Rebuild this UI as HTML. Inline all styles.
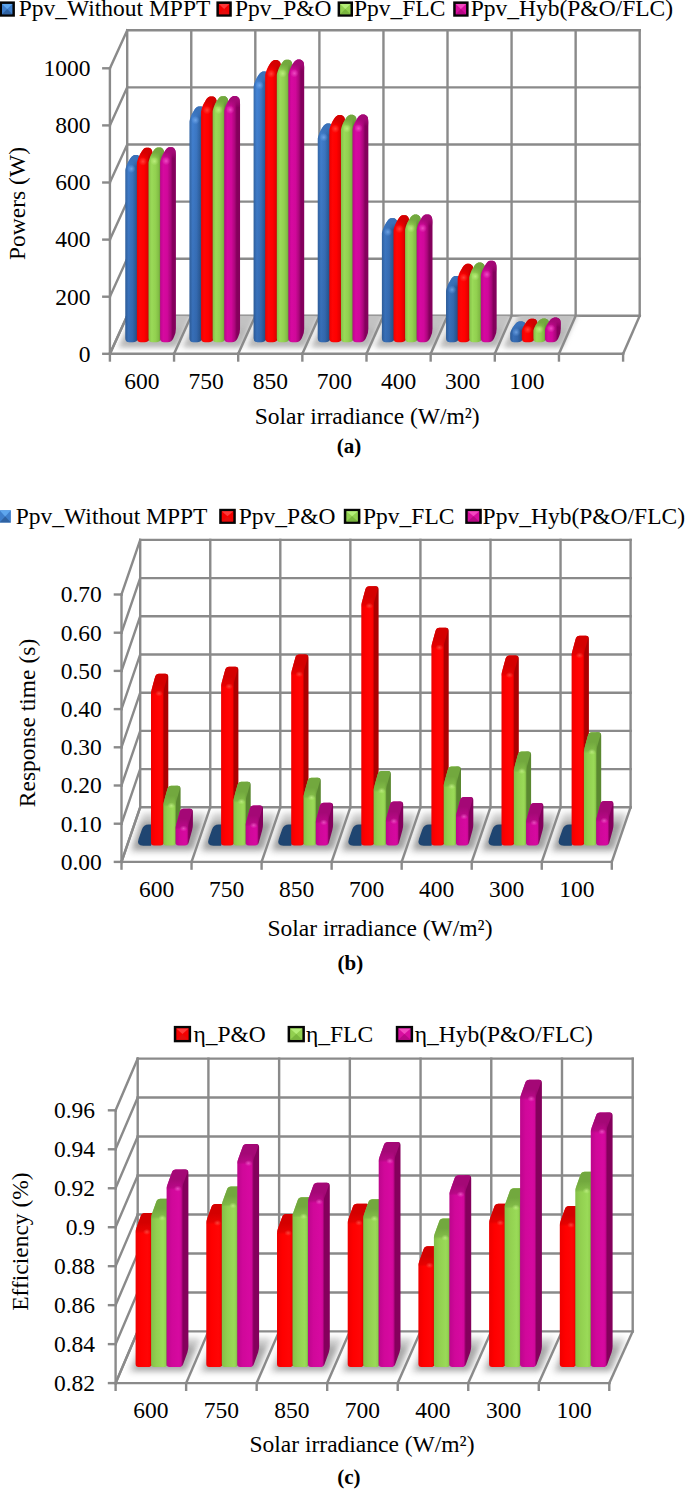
<!DOCTYPE html>
<html><head><meta charset="utf-8"><title>MPPT comparison charts</title>
<style>html,body{margin:0;padding:0;background:#fff;}body{width:685px;height:1489px;overflow:hidden;font-family:"Liberation Serif",serif;}svg{display:block}</style>
</head><body>
<svg width="685" height="1489" viewBox="0 0 685 1489" font-family="'Liberation Serif', serif" fill="#000">
<defs><linearGradient id="vdark" gradientUnits="userSpaceOnUse" x1="0" y1="70" x2="0" y2="342"><stop offset="0" stop-color="#000" stop-opacity="0"/><stop offset="1" stop-color="#001030" stop-opacity="0.2"/></linearGradient><filter id="blur3" x="-30%" y="-60%" width="160%" height="220%"><feGaussianBlur stdDeviation="2.6"/></filter><filter id="blur4" x="-30%" y="-60%" width="160%" height="220%"><feGaussianBlur stdDeviation="3.2"/></filter><linearGradient id="g_bluea" x1="0" x2="1" y1="0" y2="0"><stop offset="0.000" stop-color="#376cae"/><stop offset="0.206" stop-color="#4485d8"/><stop offset="0.455" stop-color="#3e7bca"/><stop offset="0.661" stop-color="#3166a8"/><stop offset="0.793" stop-color="#2a558e"/><stop offset="1.000" stop-color="#2a558e"/></linearGradient><linearGradient id="t_bluea" x1="0" x2="0" y1="0" y2="1"><stop offset="0.000" stop-color="#3a72ba" stop-opacity="1"/><stop offset="0.260" stop-color="#3a72ba" stop-opacity="0.95"/><stop offset="0.460" stop-color="#3a72ba" stop-opacity="0.5"/><stop offset="0.620" stop-color="#3a72ba" stop-opacity="0"/></linearGradient><radialGradient id="h_blue" cx="0.5" cy="0.5" r="0.5"><stop offset="0" stop-color="#8cc0ff" stop-opacity="0.6"/><stop offset="0.45" stop-color="#8cc0ff" stop-opacity="0.3"/><stop offset="1" stop-color="#8cc0ff" stop-opacity="0"/></radialGradient><linearGradient id="g_reda" x1="0" x2="1" y1="0" y2="0"><stop offset="0.000" stop-color="#ee0000"/><stop offset="0.206" stop-color="#ff0505"/><stop offset="0.455" stop-color="#ff0000"/><stop offset="0.661" stop-color="#e40000"/><stop offset="0.793" stop-color="#ac0000"/><stop offset="1.000" stop-color="#ac0000"/></linearGradient><linearGradient id="t_reda" x1="0" x2="0" y1="0" y2="1"><stop offset="0.000" stop-color="#d40000" stop-opacity="1"/><stop offset="0.260" stop-color="#d40000" stop-opacity="0.95"/><stop offset="0.460" stop-color="#d40000" stop-opacity="0.5"/><stop offset="0.620" stop-color="#d40000" stop-opacity="0"/></linearGradient><radialGradient id="h_red" cx="0.5" cy="0.5" r="0.5"><stop offset="0" stop-color="#ff6a5a" stop-opacity="0.6"/><stop offset="0.45" stop-color="#ff6a5a" stop-opacity="0.3"/><stop offset="1" stop-color="#ff6a5a" stop-opacity="0"/></radialGradient><linearGradient id="g_greena" x1="0" x2="1" y1="0" y2="0"><stop offset="0.000" stop-color="#84c048"/><stop offset="0.206" stop-color="#9ada58"/><stop offset="0.455" stop-color="#92d050"/><stop offset="0.661" stop-color="#80ba44"/><stop offset="0.793" stop-color="#5a8830"/><stop offset="1.000" stop-color="#5a8830"/></linearGradient><linearGradient id="t_greena" x1="0" x2="0" y1="0" y2="1"><stop offset="0.000" stop-color="#72a83e" stop-opacity="1"/><stop offset="0.260" stop-color="#72a83e" stop-opacity="0.95"/><stop offset="0.460" stop-color="#72a83e" stop-opacity="0.5"/><stop offset="0.620" stop-color="#72a83e" stop-opacity="0"/></linearGradient><radialGradient id="h_green" cx="0.5" cy="0.5" r="0.5"><stop offset="0" stop-color="#d4ff98" stop-opacity="0.6"/><stop offset="0.45" stop-color="#d4ff98" stop-opacity="0.3"/><stop offset="1" stop-color="#d4ff98" stop-opacity="0"/></radialGradient><linearGradient id="g_maga" x1="0" x2="1" y1="0" y2="0"><stop offset="0.000" stop-color="#bc068c"/><stop offset="0.206" stop-color="#d609a0"/><stop offset="0.455" stop-color="#d0089a"/><stop offset="0.661" stop-color="#ac067c"/><stop offset="0.793" stop-color="#84005c"/><stop offset="1.000" stop-color="#84005c"/></linearGradient><linearGradient id="t_maga" x1="0" x2="0" y1="0" y2="1"><stop offset="0.000" stop-color="#a40876" stop-opacity="1"/><stop offset="0.260" stop-color="#a40876" stop-opacity="0.95"/><stop offset="0.460" stop-color="#a40876" stop-opacity="0.5"/><stop offset="0.620" stop-color="#a40876" stop-opacity="0"/></linearGradient><radialGradient id="h_mag" cx="0.5" cy="0.5" r="0.5"><stop offset="0" stop-color="#ff78dc" stop-opacity="0.6"/><stop offset="0.45" stop-color="#ff78dc" stop-opacity="0.3"/><stop offset="1" stop-color="#ff78dc" stop-opacity="0"/></radialGradient><linearGradient id="g_blueb" x1="0" x2="1" y1="0" y2="0"><stop offset="0.000" stop-color="#376cae"/><stop offset="0.249" stop-color="#3e7bca"/><stop offset="0.555" stop-color="#4485d8"/><stop offset="0.661" stop-color="#3e7bca"/><stop offset="0.754" stop-color="#2a558e"/><stop offset="1.000" stop-color="#2a558e"/></linearGradient><linearGradient id="t_blueb" x1="0" x2="0" y1="0" y2="1"><stop offset="0.000" stop-color="#3a72ba" stop-opacity="1"/><stop offset="0.471" stop-color="#3a72ba" stop-opacity="1"/><stop offset="0.886" stop-color="#3a72ba" stop-opacity="0.55"/><stop offset="1.000" stop-color="#3a72ba" stop-opacity="0"/></linearGradient><linearGradient id="g_redb" x1="0" x2="1" y1="0" y2="0"><stop offset="0.000" stop-color="#ee0000"/><stop offset="0.249" stop-color="#ff0000"/><stop offset="0.555" stop-color="#ff0505"/><stop offset="0.661" stop-color="#ff0000"/><stop offset="0.754" stop-color="#ac0000"/><stop offset="1.000" stop-color="#ac0000"/></linearGradient><linearGradient id="t_redb" x1="0" x2="0" y1="0" y2="1"><stop offset="0.000" stop-color="#d40000" stop-opacity="1"/><stop offset="0.471" stop-color="#d40000" stop-opacity="1"/><stop offset="0.886" stop-color="#d40000" stop-opacity="0.55"/><stop offset="1.000" stop-color="#d40000" stop-opacity="0"/></linearGradient><linearGradient id="g_greenb" x1="0" x2="1" y1="0" y2="0"><stop offset="0.000" stop-color="#84c048"/><stop offset="0.249" stop-color="#92d050"/><stop offset="0.555" stop-color="#9ada58"/><stop offset="0.661" stop-color="#92d050"/><stop offset="0.754" stop-color="#5a8830"/><stop offset="1.000" stop-color="#5a8830"/></linearGradient><linearGradient id="t_greenb" x1="0" x2="0" y1="0" y2="1"><stop offset="0.000" stop-color="#72a83e" stop-opacity="1"/><stop offset="0.471" stop-color="#72a83e" stop-opacity="1"/><stop offset="0.886" stop-color="#72a83e" stop-opacity="0.55"/><stop offset="1.000" stop-color="#72a83e" stop-opacity="0"/></linearGradient><linearGradient id="g_magb" x1="0" x2="1" y1="0" y2="0"><stop offset="0.000" stop-color="#bc068c"/><stop offset="0.249" stop-color="#d0089a"/><stop offset="0.555" stop-color="#d609a0"/><stop offset="0.661" stop-color="#d0089a"/><stop offset="0.754" stop-color="#84005c"/><stop offset="1.000" stop-color="#84005c"/></linearGradient><linearGradient id="t_magb" x1="0" x2="0" y1="0" y2="1"><stop offset="0.000" stop-color="#a40876" stop-opacity="1"/><stop offset="0.471" stop-color="#a40876" stop-opacity="1"/><stop offset="0.886" stop-color="#a40876" stop-opacity="0.55"/><stop offset="1.000" stop-color="#a40876" stop-opacity="0"/></linearGradient><linearGradient id="g_bluec" x1="0" x2="1" y1="0" y2="0"><stop offset="0.000" stop-color="#376cae"/><stop offset="0.249" stop-color="#3e7bca"/><stop offset="0.555" stop-color="#4485d8"/><stop offset="0.661" stop-color="#3e7bca"/><stop offset="0.754" stop-color="#2a558e"/><stop offset="1.000" stop-color="#2a558e"/></linearGradient><linearGradient id="t_bluec" x1="0" x2="0" y1="0" y2="1"><stop offset="0.000" stop-color="#3a72ba" stop-opacity="1"/><stop offset="0.469" stop-color="#3a72ba" stop-opacity="1"/><stop offset="0.882" stop-color="#3a72ba" stop-opacity="0.55"/><stop offset="1.000" stop-color="#3a72ba" stop-opacity="0"/></linearGradient><linearGradient id="g_redc" x1="0" x2="1" y1="0" y2="0"><stop offset="0.000" stop-color="#ee0000"/><stop offset="0.249" stop-color="#ff0000"/><stop offset="0.555" stop-color="#ff0505"/><stop offset="0.661" stop-color="#ff0000"/><stop offset="0.754" stop-color="#ac0000"/><stop offset="1.000" stop-color="#ac0000"/></linearGradient><linearGradient id="t_redc" x1="0" x2="0" y1="0" y2="1"><stop offset="0.000" stop-color="#d40000" stop-opacity="1"/><stop offset="0.469" stop-color="#d40000" stop-opacity="1"/><stop offset="0.882" stop-color="#d40000" stop-opacity="0.55"/><stop offset="1.000" stop-color="#d40000" stop-opacity="0"/></linearGradient><linearGradient id="g_greenc" x1="0" x2="1" y1="0" y2="0"><stop offset="0.000" stop-color="#84c048"/><stop offset="0.249" stop-color="#92d050"/><stop offset="0.555" stop-color="#9ada58"/><stop offset="0.661" stop-color="#92d050"/><stop offset="0.754" stop-color="#5a8830"/><stop offset="1.000" stop-color="#5a8830"/></linearGradient><linearGradient id="t_greenc" x1="0" x2="0" y1="0" y2="1"><stop offset="0.000" stop-color="#72a83e" stop-opacity="1"/><stop offset="0.469" stop-color="#72a83e" stop-opacity="1"/><stop offset="0.882" stop-color="#72a83e" stop-opacity="0.55"/><stop offset="1.000" stop-color="#72a83e" stop-opacity="0"/></linearGradient><linearGradient id="g_magc" x1="0" x2="1" y1="0" y2="0"><stop offset="0.000" stop-color="#bc068c"/><stop offset="0.249" stop-color="#d0089a"/><stop offset="0.555" stop-color="#d609a0"/><stop offset="0.661" stop-color="#d0089a"/><stop offset="0.754" stop-color="#84005c"/><stop offset="1.000" stop-color="#84005c"/></linearGradient><linearGradient id="t_magc" x1="0" x2="0" y1="0" y2="1"><stop offset="0.000" stop-color="#a40876" stop-opacity="1"/><stop offset="0.469" stop-color="#a40876" stop-opacity="1"/><stop offset="0.882" stop-color="#a40876" stop-opacity="0.55"/><stop offset="1.000" stop-color="#a40876" stop-opacity="0"/></linearGradient></defs>
<rect width="685" height="1489" fill="#fff"/>
<line x1="127.20" y1="30.30" x2="127.20" y2="315.80" stroke="#8a8a8a" stroke-width="2.4" stroke-linecap="square"/>
<line x1="191.26" y1="30.30" x2="191.26" y2="315.80" stroke="#8a8a8a" stroke-width="2.4" stroke-linecap="square"/>
<line x1="255.32" y1="30.30" x2="255.32" y2="315.80" stroke="#8a8a8a" stroke-width="2.4" stroke-linecap="square"/>
<line x1="319.39" y1="30.30" x2="319.39" y2="315.80" stroke="#8a8a8a" stroke-width="2.4" stroke-linecap="square"/>
<line x1="383.45" y1="30.30" x2="383.45" y2="315.80" stroke="#8a8a8a" stroke-width="2.4" stroke-linecap="square"/>
<line x1="447.51" y1="30.30" x2="447.51" y2="315.80" stroke="#8a8a8a" stroke-width="2.4" stroke-linecap="square"/>
<line x1="511.57" y1="30.30" x2="511.57" y2="315.80" stroke="#8a8a8a" stroke-width="2.4" stroke-linecap="square"/>
<line x1="575.64" y1="30.30" x2="575.64" y2="315.80" stroke="#8a8a8a" stroke-width="2.4" stroke-linecap="square"/>
<line x1="639.70" y1="30.30" x2="639.70" y2="315.80" stroke="#8a8a8a" stroke-width="2.4" stroke-linecap="square"/>
<line x1="127.20" y1="30.30" x2="639.70" y2="30.30" stroke="#8a8a8a" stroke-width="2.4" stroke-linecap="square"/>
<line x1="127.20" y1="87.40" x2="639.70" y2="87.40" stroke="#8a8a8a" stroke-width="2.4" stroke-linecap="square"/>
<line x1="127.20" y1="144.50" x2="639.70" y2="144.50" stroke="#8a8a8a" stroke-width="2.4" stroke-linecap="square"/>
<line x1="127.20" y1="201.60" x2="639.70" y2="201.60" stroke="#8a8a8a" stroke-width="2.4" stroke-linecap="square"/>
<line x1="127.20" y1="258.70" x2="639.70" y2="258.70" stroke="#8a8a8a" stroke-width="2.4" stroke-linecap="square"/>
<line x1="127.20" y1="315.80" x2="639.70" y2="315.80" stroke="#8a8a8a" stroke-width="2.4" stroke-linecap="square"/>
<line x1="109.90" y1="68.30" x2="109.90" y2="353.80" stroke="#8a8a8a" stroke-width="2.4" stroke-linecap="square"/>
<line x1="109.90" y1="353.80" x2="127.20" y2="315.80" stroke="#8a8a8a" stroke-width="2.4" stroke-linecap="square"/>
<line x1="103.30" y1="353.80" x2="109.90" y2="353.80" stroke="#8a8a8a" stroke-width="2.4" stroke-linecap="square"/>
<line x1="109.90" y1="296.70" x2="127.20" y2="258.70" stroke="#8a8a8a" stroke-width="2.4" stroke-linecap="square"/>
<line x1="103.30" y1="296.70" x2="109.90" y2="296.70" stroke="#8a8a8a" stroke-width="2.4" stroke-linecap="square"/>
<line x1="109.90" y1="239.60" x2="127.20" y2="201.60" stroke="#8a8a8a" stroke-width="2.4" stroke-linecap="square"/>
<line x1="103.30" y1="239.60" x2="109.90" y2="239.60" stroke="#8a8a8a" stroke-width="2.4" stroke-linecap="square"/>
<line x1="109.90" y1="182.50" x2="127.20" y2="144.50" stroke="#8a8a8a" stroke-width="2.4" stroke-linecap="square"/>
<line x1="103.30" y1="182.50" x2="109.90" y2="182.50" stroke="#8a8a8a" stroke-width="2.4" stroke-linecap="square"/>
<line x1="109.90" y1="125.40" x2="127.20" y2="87.40" stroke="#8a8a8a" stroke-width="2.4" stroke-linecap="square"/>
<line x1="103.30" y1="125.40" x2="109.90" y2="125.40" stroke="#8a8a8a" stroke-width="2.4" stroke-linecap="square"/>
<line x1="109.90" y1="68.30" x2="127.20" y2="30.30" stroke="#8a8a8a" stroke-width="2.4" stroke-linecap="square"/>
<line x1="103.30" y1="68.30" x2="109.90" y2="68.30" stroke="#8a8a8a" stroke-width="2.4" stroke-linecap="square"/>
<clipPath id="fla"><polygon points="109.9,353.8 127.2,315.8 639.7,315.8 623.1,353.8"/></clipPath>
<g clip-path="url(#fla)"><path d="M119.80 347.70 Q117.80 347.70 118.62 345.88 L137.45 304.52 Q138.28 302.70 140.28 302.70 L195.68 302.70 Q197.68 302.70 196.85 304.52 L178.02 345.88 Q177.20 347.70 175.20 347.70 Z" fill="#c2c2c2" opacity="1" filter="url(#blur3)"/><path d="M125.16 344.70 Q123.16 344.70 123.99 342.88 L129.62 330.52 Q130.45 328.70 132.45 328.70 L180.85 328.70 Q182.85 328.70 182.02 330.52 L176.39 342.88 Q175.56 344.70 173.56 344.70 Z" fill="#a0a0a0" opacity="0.35" filter="url(#blur3)"/><path d="M183.95 347.70 Q181.95 347.70 182.77 345.88 L201.60 304.52 Q202.43 302.70 204.43 302.70 L259.83 302.70 Q261.83 302.70 261.00 304.52 L242.17 345.88 Q241.35 347.70 239.35 347.70 Z" fill="#c2c2c2" opacity="1" filter="url(#blur3)"/><path d="M189.31 344.70 Q187.31 344.70 188.14 342.88 L193.77 330.52 Q194.60 328.70 196.60 328.70 L245.00 328.70 Q247.00 328.70 246.17 330.52 L240.54 342.88 Q239.71 344.70 237.71 344.70 Z" fill="#a0a0a0" opacity="0.35" filter="url(#blur3)"/><path d="M248.10 347.70 Q246.10 347.70 246.92 345.88 L265.75 304.52 Q266.58 302.70 268.58 302.70 L323.98 302.70 Q325.98 302.70 325.15 304.52 L306.32 345.88 Q305.50 347.70 303.50 347.70 Z" fill="#c2c2c2" opacity="1" filter="url(#blur3)"/><path d="M253.46 344.70 Q251.46 344.70 252.29 342.88 L257.92 330.52 Q258.75 328.70 260.75 328.70 L309.15 328.70 Q311.15 328.70 310.32 330.52 L304.69 342.88 Q303.86 344.70 301.86 344.70 Z" fill="#a0a0a0" opacity="0.35" filter="url(#blur3)"/><path d="M312.25 347.70 Q310.25 347.70 311.07 345.88 L329.90 304.52 Q330.73 302.70 332.73 302.70 L388.13 302.70 Q390.13 302.70 389.30 304.52 L370.47 345.88 Q369.65 347.70 367.65 347.70 Z" fill="#c2c2c2" opacity="1" filter="url(#blur3)"/><path d="M317.61 344.70 Q315.61 344.70 316.44 342.88 L322.07 330.52 Q322.90 328.70 324.90 328.70 L373.30 328.70 Q375.30 328.70 374.47 330.52 L368.84 342.88 Q368.01 344.70 366.01 344.70 Z" fill="#a0a0a0" opacity="0.35" filter="url(#blur3)"/><path d="M376.40 347.70 Q374.40 347.70 375.22 345.88 L394.05 304.52 Q394.88 302.70 396.88 302.70 L452.28 302.70 Q454.28 302.70 453.45 304.52 L434.62 345.88 Q433.80 347.70 431.80 347.70 Z" fill="#c2c2c2" opacity="1" filter="url(#blur3)"/><path d="M381.76 344.70 Q379.76 344.70 380.59 342.88 L386.22 330.52 Q387.05 328.70 389.05 328.70 L437.45 328.70 Q439.45 328.70 438.62 330.52 L432.99 342.88 Q432.16 344.70 430.16 344.70 Z" fill="#a0a0a0" opacity="0.35" filter="url(#blur3)"/><path d="M440.55 347.70 Q438.55 347.70 439.37 345.88 L458.20 304.52 Q459.03 302.70 461.03 302.70 L516.43 302.70 Q518.43 302.70 517.60 304.52 L498.77 345.88 Q497.95 347.70 495.95 347.70 Z" fill="#c2c2c2" opacity="1" filter="url(#blur3)"/><path d="M445.91 344.70 Q443.91 344.70 444.74 342.88 L450.37 330.52 Q451.20 328.70 453.20 328.70 L501.60 328.70 Q503.60 328.70 502.77 330.52 L497.14 342.88 Q496.31 344.70 494.31 344.70 Z" fill="#a0a0a0" opacity="0.35" filter="url(#blur3)"/><path d="M504.70 347.70 Q502.70 347.70 503.52 345.88 L522.35 304.52 Q523.18 302.70 525.18 302.70 L580.58 302.70 Q582.58 302.70 581.75 304.52 L562.92 345.88 Q562.10 347.70 560.10 347.70 Z" fill="#c2c2c2" opacity="1" filter="url(#blur3)"/><path d="M510.06 344.70 Q508.06 344.70 508.89 342.88 L514.52 330.52 Q515.35 328.70 517.35 328.70 L565.75 328.70 Q567.75 328.70 566.92 330.52 L561.29 342.88 Q560.46 344.70 558.46 344.70 Z" fill="#a0a0a0" opacity="0.35" filter="url(#blur3)"/></g>
<line x1="109.90" y1="353.80" x2="623.10" y2="353.80" stroke="#8a8a8a" stroke-width="2.4" stroke-linecap="square"/>
<line x1="109.90" y1="353.80" x2="127.20" y2="315.80" stroke="#8a8a8a" stroke-width="2.4" stroke-linecap="square"/>
<line x1="109.90" y1="353.80" x2="109.90" y2="360.50" stroke="#8a8a8a" stroke-width="2.4" stroke-linecap="square"/>
<line x1="174.05" y1="353.80" x2="191.26" y2="315.80" stroke="#8a8a8a" stroke-width="2.4" stroke-linecap="square"/>
<line x1="174.05" y1="353.80" x2="174.05" y2="360.50" stroke="#8a8a8a" stroke-width="2.4" stroke-linecap="square"/>
<line x1="238.20" y1="353.80" x2="255.32" y2="315.80" stroke="#8a8a8a" stroke-width="2.4" stroke-linecap="square"/>
<line x1="238.20" y1="353.80" x2="238.20" y2="360.50" stroke="#8a8a8a" stroke-width="2.4" stroke-linecap="square"/>
<line x1="302.35" y1="353.80" x2="319.39" y2="315.80" stroke="#8a8a8a" stroke-width="2.4" stroke-linecap="square"/>
<line x1="302.35" y1="353.80" x2="302.35" y2="360.50" stroke="#8a8a8a" stroke-width="2.4" stroke-linecap="square"/>
<line x1="366.50" y1="353.80" x2="383.45" y2="315.80" stroke="#8a8a8a" stroke-width="2.4" stroke-linecap="square"/>
<line x1="366.50" y1="353.80" x2="366.50" y2="360.50" stroke="#8a8a8a" stroke-width="2.4" stroke-linecap="square"/>
<line x1="430.65" y1="353.80" x2="447.51" y2="315.80" stroke="#8a8a8a" stroke-width="2.4" stroke-linecap="square"/>
<line x1="430.65" y1="353.80" x2="430.65" y2="360.50" stroke="#8a8a8a" stroke-width="2.4" stroke-linecap="square"/>
<line x1="494.80" y1="353.80" x2="511.57" y2="315.80" stroke="#8a8a8a" stroke-width="2.4" stroke-linecap="square"/>
<line x1="494.80" y1="353.80" x2="494.80" y2="360.50" stroke="#8a8a8a" stroke-width="2.4" stroke-linecap="square"/>
<line x1="558.95" y1="353.80" x2="575.64" y2="315.80" stroke="#8a8a8a" stroke-width="2.4" stroke-linecap="square"/>
<line x1="558.95" y1="353.80" x2="558.95" y2="360.50" stroke="#8a8a8a" stroke-width="2.4" stroke-linecap="square"/>
<line x1="623.10" y1="353.80" x2="639.70" y2="315.80" stroke="#8a8a8a" stroke-width="2.4" stroke-linecap="square"/>
<line x1="623.10" y1="353.80" x2="623.10" y2="360.50" stroke="#8a8a8a" stroke-width="2.4" stroke-linecap="square"/>
<path d="M125.30 170.00 C125.45 168.74 125.80 167.65 126.20 166.48 C126.60 165.30 127.15 164.06 127.70 162.95 C128.25 161.85 128.92 160.79 129.50 159.83 C130.08 158.88 130.55 157.95 131.20 157.21 C131.85 156.48 132.67 155.77 133.40 155.40 C134.13 155.03 134.80 155.00 135.60 155.00 C136.40 155.00 137.47 155.07 138.20 155.40 C138.93 155.74 139.57 156.34 140.00 157.01 C140.43 157.68 140.62 158.44 140.80 159.43 C140.98 160.42 141.05 161.69 141.10 162.95 L141.10 328.70 Q141.10 332.70 139.48 336.36 L138.52 338.54 Q136.90 342.20 132.90 342.20 L129.30 342.20 Q125.30 342.20 125.30 338.20 Z" fill="url(#g_bluea)"/><path d="M125.30 170.00 C125.45 168.74 125.80 167.65 126.20 166.48 C126.60 165.30 127.15 164.06 127.70 162.95 C128.25 161.85 128.92 160.79 129.50 159.83 C130.08 158.88 130.55 157.95 131.20 157.21 C131.85 156.48 132.67 155.77 133.40 155.40 C134.13 155.03 134.80 155.00 135.60 155.00 C136.40 155.00 137.47 155.07 138.20 155.40 C138.93 155.74 139.57 156.34 140.00 157.01 C140.43 157.68 140.62 158.44 140.80 159.43 C140.98 160.42 141.05 161.69 141.10 162.95 L141.10 328.70 Q141.10 332.70 139.48 336.36 L138.52 338.54 Q136.90 342.20 132.90 342.20 L129.30 342.20 Q125.30 342.20 125.30 338.20 Z" fill="url(#vdark)"/><path d="M125.30 170.00 C125.45 168.74 125.80 167.65 126.20 166.48 C126.60 165.30 127.15 164.06 127.70 162.95 C128.25 161.85 128.92 160.79 129.50 159.83 C130.08 158.88 130.55 157.95 131.20 157.21 C131.85 156.48 132.67 155.77 133.40 155.40 C134.13 155.03 134.80 155.00 135.60 155.00 C136.40 155.00 137.47 155.07 138.20 155.40 C138.93 155.74 139.57 156.34 140.00 157.01 C140.43 157.68 140.62 158.44 140.80 159.43 C140.98 160.42 141.05 161.69 141.10 162.95 L141.10 173.50 L125.30 173.50 Z" fill="url(#t_bluea)"/><ellipse cx="131.31" cy="168.80" rx="4.20" ry="4.20" fill="url(#h_blue)"/>
<path d="M136.90 162.70 C137.05 161.44 137.40 160.35 137.80 159.18 C138.20 158.00 138.75 156.76 139.30 155.65 C139.85 154.55 140.52 153.49 141.10 152.53 C141.68 151.58 142.15 150.65 142.80 149.91 C143.45 149.18 144.27 148.47 145.00 148.10 C145.73 147.73 146.40 147.70 147.20 147.70 C148.00 147.70 149.07 147.77 149.80 148.10 C150.53 148.44 151.17 149.04 151.60 149.71 C152.03 150.38 152.22 151.14 152.40 152.13 C152.58 153.12 152.65 154.39 152.70 155.65 L152.70 328.70 Q152.70 332.70 151.08 336.36 L150.12 338.54 Q148.50 342.20 144.50 342.20 L140.90 342.20 Q136.90 342.20 136.90 338.20 Z" fill="url(#g_reda)"/><path d="M136.90 162.70 C137.05 161.44 137.40 160.35 137.80 159.18 C138.20 158.00 138.75 156.76 139.30 155.65 C139.85 154.55 140.52 153.49 141.10 152.53 C141.68 151.58 142.15 150.65 142.80 149.91 C143.45 149.18 144.27 148.47 145.00 148.10 C145.73 147.73 146.40 147.70 147.20 147.70 C148.00 147.70 149.07 147.77 149.80 148.10 C150.53 148.44 151.17 149.04 151.60 149.71 C152.03 150.38 152.22 151.14 152.40 152.13 C152.58 153.12 152.65 154.39 152.70 155.65 L152.70 166.20 L136.90 166.20 Z" fill="url(#t_reda)"/><ellipse cx="142.91" cy="161.50" rx="4.20" ry="4.20" fill="url(#h_red)"/>
<path d="M148.50 162.40 C148.65 161.14 149.00 160.05 149.40 158.88 C149.80 157.70 150.35 156.46 150.90 155.35 C151.45 154.25 152.12 153.19 152.70 152.23 C153.28 151.28 153.75 150.35 154.40 149.61 C155.05 148.88 155.87 148.17 156.60 147.80 C157.33 147.43 158.00 147.40 158.80 147.40 C159.60 147.40 160.67 147.47 161.40 147.80 C162.13 148.14 162.77 148.74 163.20 149.41 C163.63 150.08 163.82 150.84 164.00 151.83 C164.18 152.82 164.25 154.09 164.30 155.35 L164.30 328.70 Q164.30 332.70 162.68 336.36 L161.72 338.54 Q160.10 342.20 156.10 342.20 L152.50 342.20 Q148.50 342.20 148.50 338.20 Z" fill="url(#g_greena)"/><path d="M148.50 162.40 C148.65 161.14 149.00 160.05 149.40 158.88 C149.80 157.70 150.35 156.46 150.90 155.35 C151.45 154.25 152.12 153.19 152.70 152.23 C153.28 151.28 153.75 150.35 154.40 149.61 C155.05 148.88 155.87 148.17 156.60 147.80 C157.33 147.43 158.00 147.40 158.80 147.40 C159.60 147.40 160.67 147.47 161.40 147.80 C162.13 148.14 162.77 148.74 163.20 149.41 C163.63 150.08 163.82 150.84 164.00 151.83 C164.18 152.82 164.25 154.09 164.30 155.35 L164.30 165.90 L148.50 165.90 Z" fill="url(#t_greena)"/><ellipse cx="154.51" cy="161.20" rx="4.20" ry="4.20" fill="url(#h_green)"/>
<path d="M160.10 162.20 C160.25 160.94 160.60 159.85 161.00 158.68 C161.40 157.50 161.95 156.26 162.50 155.15 C163.05 154.05 163.72 152.99 164.30 152.03 C164.88 151.08 165.35 150.15 166.00 149.41 C166.65 148.68 167.47 147.97 168.20 147.60 C168.93 147.23 169.60 147.20 170.40 147.20 C171.20 147.20 172.27 147.27 173.00 147.60 C173.73 147.94 174.37 148.54 174.80 149.21 C175.23 149.88 175.42 150.64 175.60 151.63 C175.78 152.62 175.85 153.89 175.90 155.15 L175.90 328.70 Q175.90 332.70 174.28 336.36 L173.32 338.54 Q171.70 342.20 167.70 342.20 L164.10 342.20 Q160.10 342.20 160.10 338.20 Z" fill="url(#g_maga)"/><path d="M160.10 162.20 C160.25 160.94 160.60 159.85 161.00 158.68 C161.40 157.50 161.95 156.26 162.50 155.15 C163.05 154.05 163.72 152.99 164.30 152.03 C164.88 151.08 165.35 150.15 166.00 149.41 C166.65 148.68 167.47 147.97 168.20 147.60 C168.93 147.23 169.60 147.20 170.40 147.20 C171.20 147.20 172.27 147.27 173.00 147.60 C173.73 147.94 174.37 148.54 174.80 149.21 C175.23 149.88 175.42 150.64 175.60 151.63 C175.78 152.62 175.85 153.89 175.90 155.15 L175.90 165.70 L160.10 165.70 Z" fill="url(#t_maga)"/><ellipse cx="166.11" cy="161.00" rx="4.20" ry="4.20" fill="url(#h_mag)"/>
<path d="M189.45 121.40 C189.60 120.14 189.95 119.05 190.35 117.88 C190.75 116.70 191.30 115.46 191.85 114.35 C192.40 113.25 193.07 112.19 193.65 111.23 C194.23 110.28 194.70 109.35 195.35 108.61 C196.00 107.88 196.82 107.17 197.55 106.80 C198.28 106.43 198.95 106.40 199.75 106.40 C200.55 106.40 201.62 106.47 202.35 106.80 C203.08 107.14 203.72 107.74 204.15 108.41 C204.58 109.08 204.77 109.84 204.95 110.83 C205.13 111.82 205.20 113.09 205.25 114.35 L205.25 328.70 Q205.25 332.70 203.63 336.36 L202.67 338.54 Q201.05 342.20 197.05 342.20 L193.45 342.20 Q189.45 342.20 189.45 338.20 Z" fill="url(#g_bluea)"/><path d="M189.45 121.40 C189.60 120.14 189.95 119.05 190.35 117.88 C190.75 116.70 191.30 115.46 191.85 114.35 C192.40 113.25 193.07 112.19 193.65 111.23 C194.23 110.28 194.70 109.35 195.35 108.61 C196.00 107.88 196.82 107.17 197.55 106.80 C198.28 106.43 198.95 106.40 199.75 106.40 C200.55 106.40 201.62 106.47 202.35 106.80 C203.08 107.14 203.72 107.74 204.15 108.41 C204.58 109.08 204.77 109.84 204.95 110.83 C205.13 111.82 205.20 113.09 205.25 114.35 L205.25 328.70 Q205.25 332.70 203.63 336.36 L202.67 338.54 Q201.05 342.20 197.05 342.20 L193.45 342.20 Q189.45 342.20 189.45 338.20 Z" fill="url(#vdark)"/><path d="M189.45 121.40 C189.60 120.14 189.95 119.05 190.35 117.88 C190.75 116.70 191.30 115.46 191.85 114.35 C192.40 113.25 193.07 112.19 193.65 111.23 C194.23 110.28 194.70 109.35 195.35 108.61 C196.00 107.88 196.82 107.17 197.55 106.80 C198.28 106.43 198.95 106.40 199.75 106.40 C200.55 106.40 201.62 106.47 202.35 106.80 C203.08 107.14 203.72 107.74 204.15 108.41 C204.58 109.08 204.77 109.84 204.95 110.83 C205.13 111.82 205.20 113.09 205.25 114.35 L205.25 124.90 L189.45 124.90 Z" fill="url(#t_bluea)"/><ellipse cx="195.46" cy="120.20" rx="4.20" ry="4.20" fill="url(#h_blue)"/>
<path d="M201.05 111.40 C201.20 110.14 201.55 109.05 201.95 107.88 C202.35 106.70 202.90 105.46 203.45 104.35 C204.00 103.25 204.67 102.19 205.25 101.23 C205.83 100.28 206.30 99.35 206.95 98.61 C207.60 97.88 208.42 97.17 209.15 96.80 C209.88 96.43 210.55 96.40 211.35 96.40 C212.15 96.40 213.22 96.47 213.95 96.80 C214.68 97.14 215.32 97.74 215.75 98.41 C216.18 99.08 216.37 99.84 216.55 100.83 C216.73 101.82 216.80 103.09 216.85 104.35 L216.85 328.70 Q216.85 332.70 215.23 336.36 L214.27 338.54 Q212.65 342.20 208.65 342.20 L205.05 342.20 Q201.05 342.20 201.05 338.20 Z" fill="url(#g_reda)"/><path d="M201.05 111.40 C201.20 110.14 201.55 109.05 201.95 107.88 C202.35 106.70 202.90 105.46 203.45 104.35 C204.00 103.25 204.67 102.19 205.25 101.23 C205.83 100.28 206.30 99.35 206.95 98.61 C207.60 97.88 208.42 97.17 209.15 96.80 C209.88 96.43 210.55 96.40 211.35 96.40 C212.15 96.40 213.22 96.47 213.95 96.80 C214.68 97.14 215.32 97.74 215.75 98.41 C216.18 99.08 216.37 99.84 216.55 100.83 C216.73 101.82 216.80 103.09 216.85 104.35 L216.85 114.90 L201.05 114.90 Z" fill="url(#t_reda)"/><ellipse cx="207.06" cy="110.20" rx="4.20" ry="4.20" fill="url(#h_red)"/>
<path d="M212.65 111.20 C212.80 109.94 213.15 108.85 213.55 107.68 C213.95 106.50 214.50 105.26 215.05 104.15 C215.60 103.05 216.27 101.99 216.85 101.03 C217.43 100.08 217.90 99.15 218.55 98.41 C219.20 97.68 220.02 96.97 220.75 96.60 C221.48 96.23 222.15 96.20 222.95 96.20 C223.75 96.20 224.82 96.27 225.55 96.60 C226.28 96.94 226.92 97.54 227.35 98.21 C227.78 98.88 227.97 99.64 228.15 100.63 C228.33 101.62 228.40 102.89 228.45 104.15 L228.45 328.70 Q228.45 332.70 226.83 336.36 L225.87 338.54 Q224.25 342.20 220.25 342.20 L216.65 342.20 Q212.65 342.20 212.65 338.20 Z" fill="url(#g_greena)"/><path d="M212.65 111.20 C212.80 109.94 213.15 108.85 213.55 107.68 C213.95 106.50 214.50 105.26 215.05 104.15 C215.60 103.05 216.27 101.99 216.85 101.03 C217.43 100.08 217.90 99.15 218.55 98.41 C219.20 97.68 220.02 96.97 220.75 96.60 C221.48 96.23 222.15 96.20 222.95 96.20 C223.75 96.20 224.82 96.27 225.55 96.60 C226.28 96.94 226.92 97.54 227.35 98.21 C227.78 98.88 227.97 99.64 228.15 100.63 C228.33 101.62 228.40 102.89 228.45 104.15 L228.45 114.70 L212.65 114.70 Z" fill="url(#t_greena)"/><ellipse cx="218.66" cy="110.00" rx="4.20" ry="4.20" fill="url(#h_green)"/>
<path d="M224.25 111.00 C224.40 109.74 224.75 108.65 225.15 107.48 C225.55 106.30 226.10 105.06 226.65 103.95 C227.20 102.85 227.87 101.79 228.45 100.83 C229.03 99.88 229.50 98.95 230.15 98.21 C230.80 97.48 231.62 96.77 232.35 96.40 C233.08 96.03 233.75 96.00 234.55 96.00 C235.35 96.00 236.42 96.07 237.15 96.40 C237.88 96.74 238.52 97.34 238.95 98.01 C239.38 98.68 239.57 99.44 239.75 100.43 C239.93 101.42 240.00 102.69 240.05 103.95 L240.05 328.70 Q240.05 332.70 238.43 336.36 L237.47 338.54 Q235.85 342.20 231.85 342.20 L228.25 342.20 Q224.25 342.20 224.25 338.20 Z" fill="url(#g_maga)"/><path d="M224.25 111.00 C224.40 109.74 224.75 108.65 225.15 107.48 C225.55 106.30 226.10 105.06 226.65 103.95 C227.20 102.85 227.87 101.79 228.45 100.83 C229.03 99.88 229.50 98.95 230.15 98.21 C230.80 97.48 231.62 96.77 232.35 96.40 C233.08 96.03 233.75 96.00 234.55 96.00 C235.35 96.00 236.42 96.07 237.15 96.40 C237.88 96.74 238.52 97.34 238.95 98.01 C239.38 98.68 239.57 99.44 239.75 100.43 C239.93 101.42 240.00 102.69 240.05 103.95 L240.05 114.50 L224.25 114.50 Z" fill="url(#t_maga)"/><ellipse cx="230.26" cy="109.80" rx="4.20" ry="4.20" fill="url(#h_mag)"/>
<path d="M253.60 86.50 C253.75 85.24 254.10 84.15 254.50 82.98 C254.90 81.80 255.45 80.56 256.00 79.45 C256.55 78.35 257.22 77.29 257.80 76.33 C258.38 75.38 258.85 74.45 259.50 73.71 C260.15 72.98 260.97 72.27 261.70 71.90 C262.43 71.53 263.10 71.50 263.90 71.50 C264.70 71.50 265.77 71.57 266.50 71.90 C267.23 72.24 267.87 72.84 268.30 73.51 C268.73 74.18 268.92 74.94 269.10 75.93 C269.28 76.92 269.35 78.19 269.40 79.45 L269.40 328.70 Q269.40 332.70 267.78 336.36 L266.82 338.54 Q265.20 342.20 261.20 342.20 L257.60 342.20 Q253.60 342.20 253.60 338.20 Z" fill="url(#g_bluea)"/><path d="M253.60 86.50 C253.75 85.24 254.10 84.15 254.50 82.98 C254.90 81.80 255.45 80.56 256.00 79.45 C256.55 78.35 257.22 77.29 257.80 76.33 C258.38 75.38 258.85 74.45 259.50 73.71 C260.15 72.98 260.97 72.27 261.70 71.90 C262.43 71.53 263.10 71.50 263.90 71.50 C264.70 71.50 265.77 71.57 266.50 71.90 C267.23 72.24 267.87 72.84 268.30 73.51 C268.73 74.18 268.92 74.94 269.10 75.93 C269.28 76.92 269.35 78.19 269.40 79.45 L269.40 328.70 Q269.40 332.70 267.78 336.36 L266.82 338.54 Q265.20 342.20 261.20 342.20 L257.60 342.20 Q253.60 342.20 253.60 338.20 Z" fill="url(#vdark)"/><path d="M253.60 86.50 C253.75 85.24 254.10 84.15 254.50 82.98 C254.90 81.80 255.45 80.56 256.00 79.45 C256.55 78.35 257.22 77.29 257.80 76.33 C258.38 75.38 258.85 74.45 259.50 73.71 C260.15 72.98 260.97 72.27 261.70 71.90 C262.43 71.53 263.10 71.50 263.90 71.50 C264.70 71.50 265.77 71.57 266.50 71.90 C267.23 72.24 267.87 72.84 268.30 73.51 C268.73 74.18 268.92 74.94 269.10 75.93 C269.28 76.92 269.35 78.19 269.40 79.45 L269.40 90.00 L253.60 90.00 Z" fill="url(#t_bluea)"/><ellipse cx="259.61" cy="85.30" rx="4.20" ry="4.20" fill="url(#h_blue)"/>
<path d="M265.20 75.00 C265.35 73.74 265.70 72.65 266.10 71.48 C266.50 70.30 267.05 69.06 267.60 67.95 C268.15 66.85 268.82 65.79 269.40 64.83 C269.98 63.88 270.45 62.95 271.10 62.21 C271.75 61.48 272.57 60.77 273.30 60.40 C274.03 60.03 274.70 60.00 275.50 60.00 C276.30 60.00 277.37 60.07 278.10 60.40 C278.83 60.74 279.47 61.34 279.90 62.01 C280.33 62.68 280.52 63.44 280.70 64.43 C280.88 65.42 280.95 66.69 281.00 67.95 L281.00 328.70 Q281.00 332.70 279.38 336.36 L278.42 338.54 Q276.80 342.20 272.80 342.20 L269.20 342.20 Q265.20 342.20 265.20 338.20 Z" fill="url(#g_reda)"/><path d="M265.20 75.00 C265.35 73.74 265.70 72.65 266.10 71.48 C266.50 70.30 267.05 69.06 267.60 67.95 C268.15 66.85 268.82 65.79 269.40 64.83 C269.98 63.88 270.45 62.95 271.10 62.21 C271.75 61.48 272.57 60.77 273.30 60.40 C274.03 60.03 274.70 60.00 275.50 60.00 C276.30 60.00 277.37 60.07 278.10 60.40 C278.83 60.74 279.47 61.34 279.90 62.01 C280.33 62.68 280.52 63.44 280.70 64.43 C280.88 65.42 280.95 66.69 281.00 67.95 L281.00 78.50 L265.20 78.50 Z" fill="url(#t_reda)"/><ellipse cx="271.21" cy="73.80" rx="4.20" ry="4.20" fill="url(#h_red)"/>
<path d="M276.80 74.70 C276.95 73.44 277.30 72.35 277.70 71.18 C278.10 70.00 278.65 68.76 279.20 67.65 C279.75 66.55 280.42 65.49 281.00 64.53 C281.58 63.58 282.05 62.65 282.70 61.91 C283.35 61.18 284.17 60.47 284.90 60.10 C285.63 59.73 286.30 59.70 287.10 59.70 C287.90 59.70 288.97 59.77 289.70 60.10 C290.43 60.44 291.07 61.04 291.50 61.71 C291.93 62.38 292.12 63.14 292.30 64.13 C292.48 65.12 292.55 66.39 292.60 67.65 L292.60 328.70 Q292.60 332.70 290.98 336.36 L290.02 338.54 Q288.40 342.20 284.40 342.20 L280.80 342.20 Q276.80 342.20 276.80 338.20 Z" fill="url(#g_greena)"/><path d="M276.80 74.70 C276.95 73.44 277.30 72.35 277.70 71.18 C278.10 70.00 278.65 68.76 279.20 67.65 C279.75 66.55 280.42 65.49 281.00 64.53 C281.58 63.58 282.05 62.65 282.70 61.91 C283.35 61.18 284.17 60.47 284.90 60.10 C285.63 59.73 286.30 59.70 287.10 59.70 C287.90 59.70 288.97 59.77 289.70 60.10 C290.43 60.44 291.07 61.04 291.50 61.71 C291.93 62.38 292.12 63.14 292.30 64.13 C292.48 65.12 292.55 66.39 292.60 67.65 L292.60 78.20 L276.80 78.20 Z" fill="url(#t_greena)"/><ellipse cx="282.81" cy="73.50" rx="4.20" ry="4.20" fill="url(#h_green)"/>
<path d="M288.40 74.50 C288.55 73.24 288.90 72.15 289.30 70.98 C289.70 69.80 290.25 68.56 290.80 67.45 C291.35 66.35 292.02 65.29 292.60 64.33 C293.18 63.38 293.65 62.45 294.30 61.71 C294.95 60.98 295.77 60.27 296.50 59.90 C297.23 59.53 297.90 59.50 298.70 59.50 C299.50 59.50 300.57 59.57 301.30 59.90 C302.03 60.24 302.67 60.84 303.10 61.51 C303.53 62.18 303.72 62.94 303.90 63.93 C304.08 64.92 304.15 66.19 304.20 67.45 L304.20 328.70 Q304.20 332.70 302.58 336.36 L301.62 338.54 Q300.00 342.20 296.00 342.20 L292.40 342.20 Q288.40 342.20 288.40 338.20 Z" fill="url(#g_maga)"/><path d="M288.40 74.50 C288.55 73.24 288.90 72.15 289.30 70.98 C289.70 69.80 290.25 68.56 290.80 67.45 C291.35 66.35 292.02 65.29 292.60 64.33 C293.18 63.38 293.65 62.45 294.30 61.71 C294.95 60.98 295.77 60.27 296.50 59.90 C297.23 59.53 297.90 59.50 298.70 59.50 C299.50 59.50 300.57 59.57 301.30 59.90 C302.03 60.24 302.67 60.84 303.10 61.51 C303.53 62.18 303.72 62.94 303.90 63.93 C304.08 64.92 304.15 66.19 304.20 67.45 L304.20 78.00 L288.40 78.00 Z" fill="url(#t_maga)"/><ellipse cx="294.41" cy="73.30" rx="4.20" ry="4.20" fill="url(#h_mag)"/>
<path d="M317.75 138.50 C317.90 137.24 318.25 136.15 318.65 134.98 C319.05 133.80 319.60 132.56 320.15 131.45 C320.70 130.35 321.37 129.29 321.95 128.33 C322.53 127.38 323.00 126.45 323.65 125.71 C324.30 124.98 325.12 124.27 325.85 123.90 C326.58 123.53 327.25 123.50 328.05 123.50 C328.85 123.50 329.92 123.57 330.65 123.90 C331.38 124.24 332.02 124.84 332.45 125.51 C332.88 126.18 333.07 126.94 333.25 127.93 C333.43 128.92 333.50 130.19 333.55 131.45 L333.55 328.70 Q333.55 332.70 331.93 336.36 L330.97 338.54 Q329.35 342.20 325.35 342.20 L321.75 342.20 Q317.75 342.20 317.75 338.20 Z" fill="url(#g_bluea)"/><path d="M317.75 138.50 C317.90 137.24 318.25 136.15 318.65 134.98 C319.05 133.80 319.60 132.56 320.15 131.45 C320.70 130.35 321.37 129.29 321.95 128.33 C322.53 127.38 323.00 126.45 323.65 125.71 C324.30 124.98 325.12 124.27 325.85 123.90 C326.58 123.53 327.25 123.50 328.05 123.50 C328.85 123.50 329.92 123.57 330.65 123.90 C331.38 124.24 332.02 124.84 332.45 125.51 C332.88 126.18 333.07 126.94 333.25 127.93 C333.43 128.92 333.50 130.19 333.55 131.45 L333.55 328.70 Q333.55 332.70 331.93 336.36 L330.97 338.54 Q329.35 342.20 325.35 342.20 L321.75 342.20 Q317.75 342.20 317.75 338.20 Z" fill="url(#vdark)"/><path d="M317.75 138.50 C317.90 137.24 318.25 136.15 318.65 134.98 C319.05 133.80 319.60 132.56 320.15 131.45 C320.70 130.35 321.37 129.29 321.95 128.33 C322.53 127.38 323.00 126.45 323.65 125.71 C324.30 124.98 325.12 124.27 325.85 123.90 C326.58 123.53 327.25 123.50 328.05 123.50 C328.85 123.50 329.92 123.57 330.65 123.90 C331.38 124.24 332.02 124.84 332.45 125.51 C332.88 126.18 333.07 126.94 333.25 127.93 C333.43 128.92 333.50 130.19 333.55 131.45 L333.55 142.00 L317.75 142.00 Z" fill="url(#t_bluea)"/><ellipse cx="323.76" cy="137.30" rx="4.20" ry="4.20" fill="url(#h_blue)"/>
<path d="M329.35 130.00 C329.50 128.74 329.85 127.65 330.25 126.48 C330.65 125.30 331.20 124.06 331.75 122.95 C332.30 121.85 332.97 120.79 333.55 119.83 C334.13 118.88 334.60 117.95 335.25 117.21 C335.90 116.48 336.72 115.77 337.45 115.40 C338.18 115.03 338.85 115.00 339.65 115.00 C340.45 115.00 341.52 115.07 342.25 115.40 C342.98 115.74 343.62 116.34 344.05 117.01 C344.48 117.68 344.67 118.44 344.85 119.43 C345.03 120.42 345.10 121.69 345.15 122.95 L345.15 328.70 Q345.15 332.70 343.53 336.36 L342.57 338.54 Q340.95 342.20 336.95 342.20 L333.35 342.20 Q329.35 342.20 329.35 338.20 Z" fill="url(#g_reda)"/><path d="M329.35 130.00 C329.50 128.74 329.85 127.65 330.25 126.48 C330.65 125.30 331.20 124.06 331.75 122.95 C332.30 121.85 332.97 120.79 333.55 119.83 C334.13 118.88 334.60 117.95 335.25 117.21 C335.90 116.48 336.72 115.77 337.45 115.40 C338.18 115.03 338.85 115.00 339.65 115.00 C340.45 115.00 341.52 115.07 342.25 115.40 C342.98 115.74 343.62 116.34 344.05 117.01 C344.48 117.68 344.67 118.44 344.85 119.43 C345.03 120.42 345.10 121.69 345.15 122.95 L345.15 133.50 L329.35 133.50 Z" fill="url(#t_reda)"/><ellipse cx="335.36" cy="128.80" rx="4.20" ry="4.20" fill="url(#h_red)"/>
<path d="M340.95 129.80 C341.10 128.54 341.45 127.45 341.85 126.28 C342.25 125.10 342.80 123.86 343.35 122.75 C343.90 121.65 344.57 120.59 345.15 119.63 C345.73 118.68 346.20 117.75 346.85 117.01 C347.50 116.28 348.32 115.57 349.05 115.20 C349.78 114.83 350.45 114.80 351.25 114.80 C352.05 114.80 353.12 114.87 353.85 115.20 C354.58 115.54 355.22 116.14 355.65 116.81 C356.08 117.48 356.27 118.24 356.45 119.23 C356.63 120.22 356.70 121.49 356.75 122.75 L356.75 328.70 Q356.75 332.70 355.13 336.36 L354.17 338.54 Q352.55 342.20 348.55 342.20 L344.95 342.20 Q340.95 342.20 340.95 338.20 Z" fill="url(#g_greena)"/><path d="M340.95 129.80 C341.10 128.54 341.45 127.45 341.85 126.28 C342.25 125.10 342.80 123.86 343.35 122.75 C343.90 121.65 344.57 120.59 345.15 119.63 C345.73 118.68 346.20 117.75 346.85 117.01 C347.50 116.28 348.32 115.57 349.05 115.20 C349.78 114.83 350.45 114.80 351.25 114.80 C352.05 114.80 353.12 114.87 353.85 115.20 C354.58 115.54 355.22 116.14 355.65 116.81 C356.08 117.48 356.27 118.24 356.45 119.23 C356.63 120.22 356.70 121.49 356.75 122.75 L356.75 133.30 L340.95 133.30 Z" fill="url(#t_greena)"/><ellipse cx="346.96" cy="128.60" rx="4.20" ry="4.20" fill="url(#h_green)"/>
<path d="M352.55 129.60 C352.70 128.34 353.05 127.25 353.45 126.08 C353.85 124.90 354.40 123.66 354.95 122.55 C355.50 121.45 356.17 120.39 356.75 119.43 C357.33 118.48 357.80 117.55 358.45 116.81 C359.10 116.08 359.92 115.37 360.65 115.00 C361.38 114.63 362.05 114.60 362.85 114.60 C363.65 114.60 364.72 114.67 365.45 115.00 C366.18 115.34 366.82 115.94 367.25 116.61 C367.68 117.28 367.87 118.04 368.05 119.03 C368.23 120.02 368.30 121.29 368.35 122.55 L368.35 328.70 Q368.35 332.70 366.73 336.36 L365.77 338.54 Q364.15 342.20 360.15 342.20 L356.55 342.20 Q352.55 342.20 352.55 338.20 Z" fill="url(#g_maga)"/><path d="M352.55 129.60 C352.70 128.34 353.05 127.25 353.45 126.08 C353.85 124.90 354.40 123.66 354.95 122.55 C355.50 121.45 356.17 120.39 356.75 119.43 C357.33 118.48 357.80 117.55 358.45 116.81 C359.10 116.08 359.92 115.37 360.65 115.00 C361.38 114.63 362.05 114.60 362.85 114.60 C363.65 114.60 364.72 114.67 365.45 115.00 C366.18 115.34 366.82 115.94 367.25 116.61 C367.68 117.28 367.87 118.04 368.05 119.03 C368.23 120.02 368.30 121.29 368.35 122.55 L368.35 133.10 L352.55 133.10 Z" fill="url(#t_maga)"/><ellipse cx="358.56" cy="128.40" rx="4.20" ry="4.20" fill="url(#h_mag)"/>
<path d="M381.90 233.20 C382.05 231.94 382.40 230.85 382.80 229.68 C383.20 228.50 383.75 227.26 384.30 226.15 C384.85 225.05 385.52 223.99 386.10 223.03 C386.68 222.08 387.15 221.15 387.80 220.41 C388.45 219.68 389.27 218.97 390.00 218.60 C390.73 218.23 391.40 218.20 392.20 218.20 C393.00 218.20 394.07 218.27 394.80 218.60 C395.53 218.94 396.17 219.54 396.60 220.21 C397.03 220.88 397.22 221.64 397.40 222.63 C397.58 223.62 397.65 224.89 397.70 226.15 L397.70 328.70 Q397.70 332.70 396.08 336.36 L395.12 338.54 Q393.50 342.20 389.50 342.20 L385.90 342.20 Q381.90 342.20 381.90 338.20 Z" fill="url(#g_bluea)"/><path d="M381.90 233.20 C382.05 231.94 382.40 230.85 382.80 229.68 C383.20 228.50 383.75 227.26 384.30 226.15 C384.85 225.05 385.52 223.99 386.10 223.03 C386.68 222.08 387.15 221.15 387.80 220.41 C388.45 219.68 389.27 218.97 390.00 218.60 C390.73 218.23 391.40 218.20 392.20 218.20 C393.00 218.20 394.07 218.27 394.80 218.60 C395.53 218.94 396.17 219.54 396.60 220.21 C397.03 220.88 397.22 221.64 397.40 222.63 C397.58 223.62 397.65 224.89 397.70 226.15 L397.70 328.70 Q397.70 332.70 396.08 336.36 L395.12 338.54 Q393.50 342.20 389.50 342.20 L385.90 342.20 Q381.90 342.20 381.90 338.20 Z" fill="url(#vdark)"/><path d="M381.90 233.20 C382.05 231.94 382.40 230.85 382.80 229.68 C383.20 228.50 383.75 227.26 384.30 226.15 C384.85 225.05 385.52 223.99 386.10 223.03 C386.68 222.08 387.15 221.15 387.80 220.41 C388.45 219.68 389.27 218.97 390.00 218.60 C390.73 218.23 391.40 218.20 392.20 218.20 C393.00 218.20 394.07 218.27 394.80 218.60 C395.53 218.94 396.17 219.54 396.60 220.21 C397.03 220.88 397.22 221.64 397.40 222.63 C397.58 223.62 397.65 224.89 397.70 226.15 L397.70 236.70 L381.90 236.70 Z" fill="url(#t_bluea)"/><ellipse cx="387.91" cy="232.00" rx="4.20" ry="4.20" fill="url(#h_blue)"/>
<path d="M393.50 230.20 C393.65 228.94 394.00 227.85 394.40 226.68 C394.80 225.50 395.35 224.26 395.90 223.15 C396.45 222.05 397.12 220.99 397.70 220.03 C398.28 219.08 398.75 218.15 399.40 217.41 C400.05 216.68 400.87 215.97 401.60 215.60 C402.33 215.23 403.00 215.20 403.80 215.20 C404.60 215.20 405.67 215.27 406.40 215.60 C407.13 215.94 407.77 216.54 408.20 217.21 C408.63 217.88 408.82 218.64 409.00 219.63 C409.18 220.62 409.25 221.89 409.30 223.15 L409.30 328.70 Q409.30 332.70 407.68 336.36 L406.72 338.54 Q405.10 342.20 401.10 342.20 L397.50 342.20 Q393.50 342.20 393.50 338.20 Z" fill="url(#g_reda)"/><path d="M393.50 230.20 C393.65 228.94 394.00 227.85 394.40 226.68 C394.80 225.50 395.35 224.26 395.90 223.15 C396.45 222.05 397.12 220.99 397.70 220.03 C398.28 219.08 398.75 218.15 399.40 217.41 C400.05 216.68 400.87 215.97 401.60 215.60 C402.33 215.23 403.00 215.20 403.80 215.20 C404.60 215.20 405.67 215.27 406.40 215.60 C407.13 215.94 407.77 216.54 408.20 217.21 C408.63 217.88 408.82 218.64 409.00 219.63 C409.18 220.62 409.25 221.89 409.30 223.15 L409.30 233.70 L393.50 233.70 Z" fill="url(#t_reda)"/><ellipse cx="399.51" cy="229.00" rx="4.20" ry="4.20" fill="url(#h_red)"/>
<path d="M405.10 229.60 C405.25 228.34 405.60 227.25 406.00 226.08 C406.40 224.90 406.95 223.66 407.50 222.55 C408.05 221.45 408.72 220.39 409.30 219.43 C409.88 218.48 410.35 217.55 411.00 216.81 C411.65 216.08 412.47 215.37 413.20 215.00 C413.93 214.63 414.60 214.60 415.40 214.60 C416.20 214.60 417.27 214.67 418.00 215.00 C418.73 215.34 419.37 215.94 419.80 216.61 C420.23 217.28 420.42 218.04 420.60 219.03 C420.78 220.02 420.85 221.29 420.90 222.55 L420.90 328.70 Q420.90 332.70 419.28 336.36 L418.32 338.54 Q416.70 342.20 412.70 342.20 L409.10 342.20 Q405.10 342.20 405.10 338.20 Z" fill="url(#g_greena)"/><path d="M405.10 229.60 C405.25 228.34 405.60 227.25 406.00 226.08 C406.40 224.90 406.95 223.66 407.50 222.55 C408.05 221.45 408.72 220.39 409.30 219.43 C409.88 218.48 410.35 217.55 411.00 216.81 C411.65 216.08 412.47 215.37 413.20 215.00 C413.93 214.63 414.60 214.60 415.40 214.60 C416.20 214.60 417.27 214.67 418.00 215.00 C418.73 215.34 419.37 215.94 419.80 216.61 C420.23 217.28 420.42 218.04 420.60 219.03 C420.78 220.02 420.85 221.29 420.90 222.55 L420.90 233.10 L405.10 233.10 Z" fill="url(#t_greena)"/><ellipse cx="411.11" cy="228.40" rx="4.20" ry="4.20" fill="url(#h_green)"/>
<path d="M416.70 229.40 C416.85 228.14 417.20 227.05 417.60 225.88 C418.00 224.70 418.55 223.46 419.10 222.35 C419.65 221.25 420.32 220.19 420.90 219.23 C421.48 218.28 421.95 217.35 422.60 216.61 C423.25 215.88 424.07 215.17 424.80 214.80 C425.53 214.43 426.20 214.40 427.00 214.40 C427.80 214.40 428.87 214.47 429.60 214.80 C430.33 215.14 430.97 215.74 431.40 216.41 C431.83 217.08 432.02 217.84 432.20 218.83 C432.38 219.82 432.45 221.09 432.50 222.35 L432.50 328.70 Q432.50 332.70 430.88 336.36 L429.92 338.54 Q428.30 342.20 424.30 342.20 L420.70 342.20 Q416.70 342.20 416.70 338.20 Z" fill="url(#g_maga)"/><path d="M416.70 229.40 C416.85 228.14 417.20 227.05 417.60 225.88 C418.00 224.70 418.55 223.46 419.10 222.35 C419.65 221.25 420.32 220.19 420.90 219.23 C421.48 218.28 421.95 217.35 422.60 216.61 C423.25 215.88 424.07 215.17 424.80 214.80 C425.53 214.43 426.20 214.40 427.00 214.40 C427.80 214.40 428.87 214.47 429.60 214.80 C430.33 215.14 430.97 215.74 431.40 216.41 C431.83 217.08 432.02 217.84 432.20 218.83 C432.38 219.82 432.45 221.09 432.50 222.35 L432.50 232.90 L416.70 232.90 Z" fill="url(#t_maga)"/><ellipse cx="422.71" cy="228.20" rx="4.20" ry="4.20" fill="url(#h_mag)"/>
<path d="M446.05 290.90 C446.20 289.64 446.55 288.55 446.95 287.38 C447.35 286.20 447.90 284.96 448.45 283.85 C449.00 282.75 449.67 281.69 450.25 280.73 C450.83 279.78 451.30 278.85 451.95 278.11 C452.60 277.38 453.42 276.67 454.15 276.30 C454.88 275.93 455.55 275.90 456.35 275.90 C457.15 275.90 458.22 275.97 458.95 276.30 C459.68 276.64 460.32 277.24 460.75 277.91 C461.18 278.58 461.37 279.34 461.55 280.33 C461.73 281.32 461.80 282.59 461.85 283.85 L461.85 328.70 Q461.85 332.70 460.23 336.36 L459.27 338.54 Q457.65 342.20 453.65 342.20 L450.05 342.20 Q446.05 342.20 446.05 338.20 Z" fill="url(#g_bluea)"/><path d="M446.05 290.90 C446.20 289.64 446.55 288.55 446.95 287.38 C447.35 286.20 447.90 284.96 448.45 283.85 C449.00 282.75 449.67 281.69 450.25 280.73 C450.83 279.78 451.30 278.85 451.95 278.11 C452.60 277.38 453.42 276.67 454.15 276.30 C454.88 275.93 455.55 275.90 456.35 275.90 C457.15 275.90 458.22 275.97 458.95 276.30 C459.68 276.64 460.32 277.24 460.75 277.91 C461.18 278.58 461.37 279.34 461.55 280.33 C461.73 281.32 461.80 282.59 461.85 283.85 L461.85 328.70 Q461.85 332.70 460.23 336.36 L459.27 338.54 Q457.65 342.20 453.65 342.20 L450.05 342.20 Q446.05 342.20 446.05 338.20 Z" fill="url(#vdark)"/><path d="M446.05 290.90 C446.20 289.64 446.55 288.55 446.95 287.38 C447.35 286.20 447.90 284.96 448.45 283.85 C449.00 282.75 449.67 281.69 450.25 280.73 C450.83 279.78 451.30 278.85 451.95 278.11 C452.60 277.38 453.42 276.67 454.15 276.30 C454.88 275.93 455.55 275.90 456.35 275.90 C457.15 275.90 458.22 275.97 458.95 276.30 C459.68 276.64 460.32 277.24 460.75 277.91 C461.18 278.58 461.37 279.34 461.55 280.33 C461.73 281.32 461.80 282.59 461.85 283.85 L461.85 294.40 L446.05 294.40 Z" fill="url(#t_bluea)"/><ellipse cx="452.06" cy="289.70" rx="4.20" ry="4.20" fill="url(#h_blue)"/>
<path d="M457.65 278.80 C457.80 277.54 458.15 276.45 458.55 275.28 C458.95 274.10 459.50 272.86 460.05 271.75 C460.60 270.65 461.27 269.59 461.85 268.63 C462.43 267.68 462.90 266.75 463.55 266.01 C464.20 265.28 465.02 264.57 465.75 264.20 C466.48 263.83 467.15 263.80 467.95 263.80 C468.75 263.80 469.82 263.87 470.55 264.20 C471.28 264.54 471.92 265.14 472.35 265.81 C472.78 266.48 472.97 267.24 473.15 268.23 C473.33 269.22 473.40 270.49 473.45 271.75 L473.45 328.70 Q473.45 332.70 471.83 336.36 L470.87 338.54 Q469.25 342.20 465.25 342.20 L461.65 342.20 Q457.65 342.20 457.65 338.20 Z" fill="url(#g_reda)"/><path d="M457.65 278.80 C457.80 277.54 458.15 276.45 458.55 275.28 C458.95 274.10 459.50 272.86 460.05 271.75 C460.60 270.65 461.27 269.59 461.85 268.63 C462.43 267.68 462.90 266.75 463.55 266.01 C464.20 265.28 465.02 264.57 465.75 264.20 C466.48 263.83 467.15 263.80 467.95 263.80 C468.75 263.80 469.82 263.87 470.55 264.20 C471.28 264.54 471.92 265.14 472.35 265.81 C472.78 266.48 472.97 267.24 473.15 268.23 C473.33 269.22 473.40 270.49 473.45 271.75 L473.45 282.30 L457.65 282.30 Z" fill="url(#t_reda)"/><ellipse cx="463.66" cy="277.60" rx="4.20" ry="4.20" fill="url(#h_red)"/>
<path d="M469.25 277.60 C469.40 276.34 469.75 275.25 470.15 274.08 C470.55 272.90 471.10 271.66 471.65 270.55 C472.20 269.45 472.87 268.39 473.45 267.43 C474.03 266.48 474.50 265.55 475.15 264.81 C475.80 264.08 476.62 263.37 477.35 263.00 C478.08 262.63 478.75 262.60 479.55 262.60 C480.35 262.60 481.42 262.67 482.15 263.00 C482.88 263.34 483.52 263.94 483.95 264.61 C484.38 265.28 484.57 266.04 484.75 267.03 C484.93 268.02 485.00 269.29 485.05 270.55 L485.05 328.70 Q485.05 332.70 483.43 336.36 L482.47 338.54 Q480.85 342.20 476.85 342.20 L473.25 342.20 Q469.25 342.20 469.25 338.20 Z" fill="url(#g_greena)"/><path d="M469.25 277.60 C469.40 276.34 469.75 275.25 470.15 274.08 C470.55 272.90 471.10 271.66 471.65 270.55 C472.20 269.45 472.87 268.39 473.45 267.43 C474.03 266.48 474.50 265.55 475.15 264.81 C475.80 264.08 476.62 263.37 477.35 263.00 C478.08 262.63 478.75 262.60 479.55 262.60 C480.35 262.60 481.42 262.67 482.15 263.00 C482.88 263.34 483.52 263.94 483.95 264.61 C484.38 265.28 484.57 266.04 484.75 267.03 C484.93 268.02 485.00 269.29 485.05 270.55 L485.05 281.10 L469.25 281.10 Z" fill="url(#t_greena)"/><ellipse cx="475.26" cy="276.40" rx="4.20" ry="4.20" fill="url(#h_green)"/>
<path d="M480.85 275.70 C481.00 274.44 481.35 273.35 481.75 272.18 C482.15 271.00 482.70 269.76 483.25 268.65 C483.80 267.55 484.47 266.49 485.05 265.53 C485.63 264.58 486.10 263.65 486.75 262.91 C487.40 262.18 488.22 261.47 488.95 261.10 C489.68 260.73 490.35 260.70 491.15 260.70 C491.95 260.70 493.02 260.77 493.75 261.10 C494.48 261.44 495.12 262.04 495.55 262.71 C495.98 263.38 496.17 264.14 496.35 265.13 C496.53 266.12 496.60 267.39 496.65 268.65 L496.65 328.70 Q496.65 332.70 495.03 336.36 L494.07 338.54 Q492.45 342.20 488.45 342.20 L484.85 342.20 Q480.85 342.20 480.85 338.20 Z" fill="url(#g_maga)"/><path d="M480.85 275.70 C481.00 274.44 481.35 273.35 481.75 272.18 C482.15 271.00 482.70 269.76 483.25 268.65 C483.80 267.55 484.47 266.49 485.05 265.53 C485.63 264.58 486.10 263.65 486.75 262.91 C487.40 262.18 488.22 261.47 488.95 261.10 C489.68 260.73 490.35 260.70 491.15 260.70 C491.95 260.70 493.02 260.77 493.75 261.10 C494.48 261.44 495.12 262.04 495.55 262.71 C495.98 263.38 496.17 264.14 496.35 265.13 C496.53 266.12 496.60 267.39 496.65 268.65 L496.65 279.20 L480.85 279.20 Z" fill="url(#t_maga)"/><ellipse cx="486.86" cy="274.50" rx="4.20" ry="4.20" fill="url(#h_mag)"/>
<path d="M510.20 333.40 C510.35 332.39 510.70 331.52 511.10 330.58 C511.50 329.64 512.05 328.65 512.60 327.76 C513.15 326.88 513.82 326.03 514.40 325.27 C514.98 324.50 515.45 323.76 516.10 323.17 C516.75 322.58 517.57 322.02 518.30 321.72 C519.03 321.43 519.70 321.40 520.50 321.40 C521.30 321.40 522.37 321.45 523.10 321.72 C523.83 321.99 524.47 322.47 524.90 323.01 C525.33 323.55 525.52 324.15 525.70 324.94 C525.88 325.74 525.95 326.76 526.00 327.76 L526.00 330.23 Q526.00 332.70 524.38 336.36 L523.42 338.54 Q521.80 342.20 517.80 342.20 L514.20 342.20 Q510.20 342.20 510.20 338.20 Z" fill="url(#g_bluea)"/><path d="M510.20 333.40 C510.35 332.39 510.70 331.52 511.10 330.58 C511.50 329.64 512.05 328.65 512.60 327.76 C513.15 326.88 513.82 326.03 514.40 325.27 C514.98 324.50 515.45 323.76 516.10 323.17 C516.75 322.58 517.57 322.02 518.30 321.72 C519.03 321.43 519.70 321.40 520.50 321.40 C521.30 321.40 522.37 321.45 523.10 321.72 C523.83 321.99 524.47 322.47 524.90 323.01 C525.33 323.55 525.52 324.15 525.70 324.94 C525.88 325.74 525.95 326.76 526.00 327.76 L526.00 330.23 Q526.00 332.70 524.38 336.36 L523.42 338.54 Q521.80 342.20 517.80 342.20 L514.20 342.20 Q510.20 342.20 510.20 338.20 Z" fill="url(#vdark)"/><path d="M510.20 333.40 C510.35 332.39 510.70 331.52 511.10 330.58 C511.50 329.64 512.05 328.65 512.60 327.76 C513.15 326.88 513.82 326.03 514.40 325.27 C514.98 324.50 515.45 323.76 516.10 323.17 C516.75 322.58 517.57 322.02 518.30 321.72 C519.03 321.43 519.70 321.40 520.50 321.40 C521.30 321.40 522.37 321.45 523.10 321.72 C523.83 321.99 524.47 322.47 524.90 323.01 C525.33 323.55 525.52 324.15 525.70 324.94 C525.88 325.74 525.95 326.76 526.00 327.76 L526.00 336.90 L510.20 336.90 Z" fill="url(#t_bluea)"/><ellipse cx="516.21" cy="332.20" rx="4.20" ry="4.20" fill="url(#h_blue)"/>
<path d="M521.80 330.80 C521.95 329.79 522.30 328.92 522.70 327.98 C523.10 327.04 523.65 326.05 524.20 325.16 C524.75 324.28 525.42 323.43 526.00 322.67 C526.58 321.90 527.05 321.16 527.70 320.57 C528.35 319.98 529.17 319.42 529.90 319.12 C530.63 318.83 531.30 318.80 532.10 318.80 C532.90 318.80 533.97 318.85 534.70 319.12 C535.43 319.39 536.07 319.87 536.50 320.41 C536.93 320.95 537.12 321.55 537.30 322.34 C537.48 323.14 537.55 324.16 537.60 325.16 L537.60 328.93 Q537.60 332.70 535.98 336.36 L535.02 338.54 Q533.40 342.20 529.40 342.20 L525.80 342.20 Q521.80 342.20 521.80 338.20 Z" fill="url(#g_reda)"/><path d="M521.80 330.80 C521.95 329.79 522.30 328.92 522.70 327.98 C523.10 327.04 523.65 326.05 524.20 325.16 C524.75 324.28 525.42 323.43 526.00 322.67 C526.58 321.90 527.05 321.16 527.70 320.57 C528.35 319.98 529.17 319.42 529.90 319.12 C530.63 318.83 531.30 318.80 532.10 318.80 C532.90 318.80 533.97 318.85 534.70 319.12 C535.43 319.39 536.07 319.87 536.50 320.41 C536.93 320.95 537.12 321.55 537.30 322.34 C537.48 323.14 537.55 324.16 537.60 325.16 L537.60 334.30 L521.80 334.30 Z" fill="url(#t_reda)"/><ellipse cx="527.81" cy="329.60" rx="4.20" ry="4.20" fill="url(#h_red)"/>
<path d="M533.40 330.60 C533.55 329.59 533.90 328.72 534.30 327.78 C534.70 326.84 535.25 325.85 535.80 324.96 C536.35 324.08 537.02 323.23 537.60 322.47 C538.18 321.70 538.65 320.96 539.30 320.37 C539.95 319.78 540.77 319.22 541.50 318.92 C542.23 318.63 542.90 318.60 543.70 318.60 C544.50 318.60 545.57 318.65 546.30 318.92 C547.03 319.19 547.67 319.67 548.10 320.21 C548.53 320.75 548.72 321.35 548.90 322.14 C549.08 322.94 549.15 323.96 549.20 324.96 L549.20 328.83 Q549.20 332.70 547.58 336.36 L546.62 338.54 Q545.00 342.20 541.00 342.20 L537.40 342.20 Q533.40 342.20 533.40 338.20 Z" fill="url(#g_greena)"/><path d="M533.40 330.60 C533.55 329.59 533.90 328.72 534.30 327.78 C534.70 326.84 535.25 325.85 535.80 324.96 C536.35 324.08 537.02 323.23 537.60 322.47 C538.18 321.70 538.65 320.96 539.30 320.37 C539.95 319.78 540.77 319.22 541.50 318.92 C542.23 318.63 542.90 318.60 543.70 318.60 C544.50 318.60 545.57 318.65 546.30 318.92 C547.03 319.19 547.67 319.67 548.10 320.21 C548.53 320.75 548.72 321.35 548.90 322.14 C549.08 322.94 549.15 323.96 549.20 324.96 L549.20 334.10 L533.40 334.10 Z" fill="url(#t_greena)"/><ellipse cx="539.41" cy="329.40" rx="4.20" ry="4.20" fill="url(#h_green)"/>
<path d="M545.00 329.60 C545.15 328.59 545.50 327.72 545.90 326.78 C546.30 325.84 546.85 324.85 547.40 323.96 C547.95 323.08 548.62 322.23 549.20 321.47 C549.78 320.70 550.25 319.96 550.90 319.37 C551.55 318.78 552.37 318.22 553.10 317.92 C553.83 317.63 554.50 317.60 555.30 317.60 C556.10 317.60 557.17 317.65 557.90 317.92 C558.63 318.19 559.27 318.67 559.70 319.21 C560.13 319.75 560.32 320.35 560.50 321.14 C560.68 321.94 560.75 322.96 560.80 323.96 L560.80 328.70 Q560.80 332.70 559.18 336.36 L558.22 338.54 Q556.60 342.20 552.60 342.20 L549.00 342.20 Q545.00 342.20 545.00 338.20 Z" fill="url(#g_maga)"/><path d="M545.00 329.60 C545.15 328.59 545.50 327.72 545.90 326.78 C546.30 325.84 546.85 324.85 547.40 323.96 C547.95 323.08 548.62 322.23 549.20 321.47 C549.78 320.70 550.25 319.96 550.90 319.37 C551.55 318.78 552.37 318.22 553.10 317.92 C553.83 317.63 554.50 317.60 555.30 317.60 C556.10 317.60 557.17 317.65 557.90 317.92 C558.63 318.19 559.27 318.67 559.70 319.21 C560.13 319.75 560.32 320.35 560.50 321.14 C560.68 321.94 560.75 322.96 560.80 323.96 L560.80 333.10 L545.00 333.10 Z" fill="url(#t_maga)"/><ellipse cx="551.01" cy="328.40" rx="4.20" ry="4.20" fill="url(#h_mag)"/>
<text x="90.50" y="361.60" font-size="23.5" text-anchor="end">0</text>
<text x="90.50" y="304.50" font-size="23.5" text-anchor="end">200</text>
<text x="90.50" y="247.40" font-size="23.5" text-anchor="end">400</text>
<text x="90.50" y="190.30" font-size="23.5" text-anchor="end">600</text>
<text x="90.50" y="133.20" font-size="23.5" text-anchor="end">800</text>
<text x="90.50" y="76.10" font-size="23.5" text-anchor="end">1000</text>
<text x="141.98" y="388.50" font-size="23.5" text-anchor="middle">600</text>
<text x="206.12" y="388.50" font-size="23.5" text-anchor="middle">750</text>
<text x="270.27" y="388.50" font-size="23.5" text-anchor="middle">850</text>
<text x="334.43" y="388.50" font-size="23.5" text-anchor="middle">700</text>
<text x="398.58" y="388.50" font-size="23.5" text-anchor="middle">400</text>
<text x="462.73" y="388.50" font-size="23.5" text-anchor="middle">300</text>
<text x="526.88" y="388.50" font-size="23.5" text-anchor="middle">100</text>
<text x="367.20" y="423.50" font-size="23.5" text-anchor="middle">Solar irradiance (W/m²)</text>
<text x="349.00" y="453.40" font-size="21" text-anchor="middle" font-weight="bold">(a)</text>
<text x="24.90" y="203.50" font-size="23.5" text-anchor="middle" transform="rotate(-90 24.90 203.50)">Powers (W)</text>
<rect x="-0.50" y="1.40" width="15.4" height="15.3" fill="#050505"/><rect x="2.00" y="3.90" width="10.40" height="10.30" fill="#3f7fcc"/><polygon points="2.00,3.90 12.40,3.90 7.20,9.05" fill="#5ea6ee"/><polygon points="2.00,14.20 12.40,14.20 7.20,9.05" fill="#2f62a2"/>
<text x="18.70" y="15.80" font-size="23.5" text-anchor="start">Ppv_Without MPPT</text>
<rect x="216.40" y="1.40" width="15.4" height="15.3" fill="#050505"/><rect x="218.90" y="3.90" width="10.40" height="10.30" fill="#f40000"/><polygon points="218.90,3.90 229.30,3.90 224.10,9.05" fill="#ff3838"/><polygon points="218.90,14.20 229.30,14.20 224.10,9.05" fill="#e60c0c"/>
<text x="234.90" y="15.80" font-size="23.5" text-anchor="start">Ppv_P&amp;O</text>
<rect x="337.60" y="1.40" width="15.4" height="15.3" fill="#050505"/><rect x="340.10" y="3.90" width="10.40" height="10.30" fill="#92d050"/><polygon points="340.10,3.90 350.50,3.90 345.30,9.05" fill="#b4ee78"/><polygon points="340.10,14.20 350.50,14.20 345.30,9.05" fill="#7ab63e"/>
<text x="353.90" y="15.80" font-size="23.5" text-anchor="start">Ppv_FLC</text>
<rect x="453.20" y="1.40" width="15.4" height="15.3" fill="#050505"/><rect x="455.70" y="3.90" width="10.40" height="10.30" fill="#d80ea0"/><polygon points="455.70,3.90 466.10,3.90 460.90,9.05" fill="#f248c0"/><polygon points="455.70,14.20 466.10,14.20 460.90,9.05" fill="#b80886"/>
<text x="470.70" y="15.80" font-size="23.5" text-anchor="start">Ppv_Hyb(P&amp;O/FLC)</text>
<line x1="140.20" y1="539.90" x2="140.20" y2="807.30" stroke="#8a8a8a" stroke-width="2.4" stroke-linecap="square"/>
<line x1="210.26" y1="539.90" x2="210.26" y2="807.30" stroke="#8a8a8a" stroke-width="2.4" stroke-linecap="square"/>
<line x1="280.31" y1="539.90" x2="280.31" y2="807.30" stroke="#8a8a8a" stroke-width="2.4" stroke-linecap="square"/>
<line x1="350.37" y1="539.90" x2="350.37" y2="807.30" stroke="#8a8a8a" stroke-width="2.4" stroke-linecap="square"/>
<line x1="420.43" y1="539.90" x2="420.43" y2="807.30" stroke="#8a8a8a" stroke-width="2.4" stroke-linecap="square"/>
<line x1="490.49" y1="539.90" x2="490.49" y2="807.30" stroke="#8a8a8a" stroke-width="2.4" stroke-linecap="square"/>
<line x1="560.54" y1="539.90" x2="560.54" y2="807.30" stroke="#8a8a8a" stroke-width="2.4" stroke-linecap="square"/>
<line x1="630.60" y1="539.90" x2="630.60" y2="807.30" stroke="#8a8a8a" stroke-width="2.4" stroke-linecap="square"/>
<line x1="140.20" y1="539.90" x2="630.60" y2="539.90" stroke="#8a8a8a" stroke-width="2.4" stroke-linecap="square"/>
<line x1="140.20" y1="578.10" x2="630.60" y2="578.10" stroke="#8a8a8a" stroke-width="2.4" stroke-linecap="square"/>
<line x1="140.20" y1="616.30" x2="630.60" y2="616.30" stroke="#8a8a8a" stroke-width="2.4" stroke-linecap="square"/>
<line x1="140.20" y1="654.50" x2="630.60" y2="654.50" stroke="#8a8a8a" stroke-width="2.4" stroke-linecap="square"/>
<line x1="140.20" y1="692.70" x2="630.60" y2="692.70" stroke="#8a8a8a" stroke-width="2.4" stroke-linecap="square"/>
<line x1="140.20" y1="730.90" x2="630.60" y2="730.90" stroke="#8a8a8a" stroke-width="2.4" stroke-linecap="square"/>
<line x1="140.20" y1="769.10" x2="630.60" y2="769.10" stroke="#8a8a8a" stroke-width="2.4" stroke-linecap="square"/>
<line x1="140.20" y1="807.30" x2="630.60" y2="807.30" stroke="#8a8a8a" stroke-width="2.4" stroke-linecap="square"/>
<line x1="121.50" y1="594.50" x2="121.50" y2="861.90" stroke="#8a8a8a" stroke-width="2.4" stroke-linecap="square"/>
<line x1="121.50" y1="861.90" x2="140.20" y2="807.30" stroke="#8a8a8a" stroke-width="2.4" stroke-linecap="square"/>
<line x1="114.90" y1="861.90" x2="121.50" y2="861.90" stroke="#8a8a8a" stroke-width="2.4" stroke-linecap="square"/>
<line x1="121.50" y1="823.70" x2="140.20" y2="769.10" stroke="#8a8a8a" stroke-width="2.4" stroke-linecap="square"/>
<line x1="114.90" y1="823.70" x2="121.50" y2="823.70" stroke="#8a8a8a" stroke-width="2.4" stroke-linecap="square"/>
<line x1="121.50" y1="785.50" x2="140.20" y2="730.90" stroke="#8a8a8a" stroke-width="2.4" stroke-linecap="square"/>
<line x1="114.90" y1="785.50" x2="121.50" y2="785.50" stroke="#8a8a8a" stroke-width="2.4" stroke-linecap="square"/>
<line x1="121.50" y1="747.30" x2="140.20" y2="692.70" stroke="#8a8a8a" stroke-width="2.4" stroke-linecap="square"/>
<line x1="114.90" y1="747.30" x2="121.50" y2="747.30" stroke="#8a8a8a" stroke-width="2.4" stroke-linecap="square"/>
<line x1="121.50" y1="709.10" x2="140.20" y2="654.50" stroke="#8a8a8a" stroke-width="2.4" stroke-linecap="square"/>
<line x1="114.90" y1="709.10" x2="121.50" y2="709.10" stroke="#8a8a8a" stroke-width="2.4" stroke-linecap="square"/>
<line x1="121.50" y1="670.90" x2="140.20" y2="616.30" stroke="#8a8a8a" stroke-width="2.4" stroke-linecap="square"/>
<line x1="114.90" y1="670.90" x2="121.50" y2="670.90" stroke="#8a8a8a" stroke-width="2.4" stroke-linecap="square"/>
<line x1="121.50" y1="632.70" x2="140.20" y2="578.10" stroke="#8a8a8a" stroke-width="2.4" stroke-linecap="square"/>
<line x1="114.90" y1="632.70" x2="121.50" y2="632.70" stroke="#8a8a8a" stroke-width="2.4" stroke-linecap="square"/>
<line x1="121.50" y1="594.50" x2="140.20" y2="539.90" stroke="#8a8a8a" stroke-width="2.4" stroke-linecap="square"/>
<line x1="114.90" y1="594.50" x2="121.50" y2="594.50" stroke="#8a8a8a" stroke-width="2.4" stroke-linecap="square"/>
<clipPath id="flb"><polygon points="121.5,861.9 140.2,807.3 630.6,807.3 611.8,861.9"/></clipPath>
<g clip-path="url(#flb)"><path d="M131.57 851.90 Q129.57 851.90 130.22 850.01 L142.11 815.29 Q142.76 813.40 144.76 813.40 L204.86 813.40 Q206.86 813.40 206.21 815.29 L194.32 850.01 Q193.67 851.90 191.67 851.90 Z" fill="#c9c9c9" opacity="1" filter="url(#blur4)"/><path d="M135.77 848.40 Q133.77 848.40 134.42 846.51 L142.03 824.29 Q142.68 822.40 144.68 822.40 L199.28 822.40 Q201.28 822.40 200.63 824.29 L193.02 846.51 Q192.37 848.40 190.37 848.40 Z" fill="#868686" opacity="0.62" filter="url(#blur3)"/><path d="M201.67 851.90 Q199.67 851.90 200.32 850.01 L212.21 815.29 Q212.86 813.40 214.86 813.40 L274.96 813.40 Q276.96 813.40 276.31 815.29 L264.42 850.01 Q263.77 851.90 261.77 851.90 Z" fill="#c9c9c9" opacity="1" filter="url(#blur4)"/><path d="M205.87 848.40 Q203.87 848.40 204.52 846.51 L212.13 824.29 Q212.78 822.40 214.78 822.40 L269.38 822.40 Q271.38 822.40 270.73 824.29 L263.12 846.51 Q262.47 848.40 260.47 848.40 Z" fill="#868686" opacity="0.62" filter="url(#blur3)"/><path d="M271.77 851.90 Q269.77 851.90 270.42 850.01 L282.31 815.29 Q282.96 813.40 284.96 813.40 L345.06 813.40 Q347.06 813.40 346.41 815.29 L334.52 850.01 Q333.87 851.90 331.87 851.90 Z" fill="#c9c9c9" opacity="1" filter="url(#blur4)"/><path d="M275.97 848.40 Q273.97 848.40 274.62 846.51 L282.23 824.29 Q282.88 822.40 284.88 822.40 L339.48 822.40 Q341.48 822.40 340.83 824.29 L333.22 846.51 Q332.57 848.40 330.57 848.40 Z" fill="#868686" opacity="0.62" filter="url(#blur3)"/><path d="M341.87 851.90 Q339.87 851.90 340.52 850.01 L352.41 815.29 Q353.06 813.40 355.06 813.40 L415.16 813.40 Q417.16 813.40 416.51 815.29 L404.62 850.01 Q403.97 851.90 401.97 851.90 Z" fill="#c9c9c9" opacity="1" filter="url(#blur4)"/><path d="M346.07 848.40 Q344.07 848.40 344.72 846.51 L352.33 824.29 Q352.98 822.40 354.98 822.40 L409.58 822.40 Q411.58 822.40 410.93 824.29 L403.32 846.51 Q402.67 848.40 400.67 848.40 Z" fill="#868686" opacity="0.62" filter="url(#blur3)"/><path d="M411.97 851.90 Q409.97 851.90 410.62 850.01 L422.51 815.29 Q423.16 813.40 425.16 813.40 L485.26 813.40 Q487.26 813.40 486.61 815.29 L474.72 850.01 Q474.07 851.90 472.07 851.90 Z" fill="#c9c9c9" opacity="1" filter="url(#blur4)"/><path d="M416.17 848.40 Q414.17 848.40 414.82 846.51 L422.43 824.29 Q423.08 822.40 425.08 822.40 L479.68 822.40 Q481.68 822.40 481.03 824.29 L473.42 846.51 Q472.77 848.40 470.77 848.40 Z" fill="#868686" opacity="0.62" filter="url(#blur3)"/><path d="M482.07 851.90 Q480.07 851.90 480.72 850.01 L492.61 815.29 Q493.26 813.40 495.26 813.40 L555.36 813.40 Q557.36 813.40 556.71 815.29 L544.82 850.01 Q544.17 851.90 542.17 851.90 Z" fill="#c9c9c9" opacity="1" filter="url(#blur4)"/><path d="M486.27 848.40 Q484.27 848.40 484.92 846.51 L492.53 824.29 Q493.18 822.40 495.18 822.40 L549.78 822.40 Q551.78 822.40 551.13 824.29 L543.52 846.51 Q542.87 848.40 540.87 848.40 Z" fill="#868686" opacity="0.62" filter="url(#blur3)"/><path d="M552.17 851.90 Q550.17 851.90 550.82 850.01 L562.71 815.29 Q563.36 813.40 565.36 813.40 L625.46 813.40 Q627.46 813.40 626.81 815.29 L614.92 850.01 Q614.27 851.90 612.27 851.90 Z" fill="#c9c9c9" opacity="1" filter="url(#blur4)"/><path d="M556.37 848.40 Q554.37 848.40 555.02 846.51 L562.63 824.29 Q563.28 822.40 565.28 822.40 L619.88 822.40 Q621.88 822.40 621.23 824.29 L613.62 846.51 Q612.97 848.40 610.97 848.40 Z" fill="#868686" opacity="0.62" filter="url(#blur3)"/></g>
<line x1="121.50" y1="861.90" x2="611.80" y2="861.90" stroke="#8a8a8a" stroke-width="2.4" stroke-linecap="square"/>
<line x1="121.50" y1="861.90" x2="140.20" y2="807.30" stroke="#8a8a8a" stroke-width="2.4" stroke-linecap="square"/>
<line x1="121.50" y1="861.90" x2="121.50" y2="868.60" stroke="#8a8a8a" stroke-width="2.4" stroke-linecap="square"/>
<line x1="191.54" y1="861.90" x2="210.26" y2="807.30" stroke="#8a8a8a" stroke-width="2.4" stroke-linecap="square"/>
<line x1="191.54" y1="861.90" x2="191.54" y2="868.60" stroke="#8a8a8a" stroke-width="2.4" stroke-linecap="square"/>
<line x1="261.59" y1="861.90" x2="280.31" y2="807.30" stroke="#8a8a8a" stroke-width="2.4" stroke-linecap="square"/>
<line x1="261.59" y1="861.90" x2="261.59" y2="868.60" stroke="#8a8a8a" stroke-width="2.4" stroke-linecap="square"/>
<line x1="331.63" y1="861.90" x2="350.37" y2="807.30" stroke="#8a8a8a" stroke-width="2.4" stroke-linecap="square"/>
<line x1="331.63" y1="861.90" x2="331.63" y2="868.60" stroke="#8a8a8a" stroke-width="2.4" stroke-linecap="square"/>
<line x1="401.67" y1="861.90" x2="420.43" y2="807.30" stroke="#8a8a8a" stroke-width="2.4" stroke-linecap="square"/>
<line x1="401.67" y1="861.90" x2="401.67" y2="868.60" stroke="#8a8a8a" stroke-width="2.4" stroke-linecap="square"/>
<line x1="471.71" y1="861.90" x2="490.49" y2="807.30" stroke="#8a8a8a" stroke-width="2.4" stroke-linecap="square"/>
<line x1="471.71" y1="861.90" x2="471.71" y2="868.60" stroke="#8a8a8a" stroke-width="2.4" stroke-linecap="square"/>
<line x1="541.76" y1="861.90" x2="560.54" y2="807.30" stroke="#8a8a8a" stroke-width="2.4" stroke-linecap="square"/>
<line x1="541.76" y1="861.90" x2="541.76" y2="868.60" stroke="#8a8a8a" stroke-width="2.4" stroke-linecap="square"/>
<line x1="611.80" y1="861.90" x2="630.60" y2="807.30" stroke="#8a8a8a" stroke-width="2.4" stroke-linecap="square"/>
<line x1="611.80" y1="861.90" x2="611.80" y2="868.60" stroke="#8a8a8a" stroke-width="2.4" stroke-linecap="square"/>
<path d="M143.30 845.70 Q136.30 845.70 138.57 839.08 L141.98 829.13 Q143.60 824.40 148.60 824.40 L158.30 824.40 Q158.30 824.40 158.30 824.40 L151.00 845.70 Q151.00 845.70 151.00 845.70 Z" fill="#1f4571"/>
<path d="M154.00 845.40 Q151.00 845.40 151.00 842.40 L151.00 693.80 Q151.00 691.70 151.56 689.68 L155.20 676.59 Q156.00 673.70 159.00 673.70 L165.30 673.70 Q168.30 673.70 168.30 676.70 L168.30 824.40 Q168.30 827.40 167.50 830.29 L164.10 842.51 Q163.30 845.40 160.30 845.40 Z" fill="url(#g_redb)"/><path d="M151.00 694.70 Q151.00 694.70 151.00 694.70 L151.00 693.20 Q151.00 691.70 151.56 689.68 L155.20 676.59 Q156.00 673.70 159.00 673.70 L165.30 673.70 Q168.30 673.70 167.50 676.59 L163.70 690.25 Q163.30 691.70 163.30 693.20 L163.30 694.70 Q163.30 694.70 163.30 694.70 Z" fill="url(#t_redb)"/><ellipse cx="159.00" cy="693.35" rx="3.80" ry="3.04" fill="url(#h_red)"/>
<path d="M166.30 845.40 Q163.30 845.40 163.30 842.40 L163.30 805.90 Q163.30 803.80 163.86 801.78 L167.50 788.69 Q168.30 785.80 171.30 785.80 L177.60 785.80 Q180.60 785.80 180.60 788.80 L180.60 824.40 Q180.60 827.40 179.80 830.29 L176.40 842.51 Q175.60 845.40 172.60 845.40 Z" fill="url(#g_greenb)"/><path d="M163.30 806.80 Q163.30 806.80 163.30 806.80 L163.30 805.30 Q163.30 803.80 163.86 801.78 L167.50 788.69 Q168.30 785.80 171.30 785.80 L177.60 785.80 Q180.60 785.80 179.80 788.69 L176.00 802.35 Q175.60 803.80 175.60 805.30 L175.60 806.80 Q175.60 806.80 175.60 806.80 Z" fill="url(#t_greenb)"/><ellipse cx="171.30" cy="805.45" rx="3.80" ry="3.04" fill="url(#h_green)"/>
<path d="M178.60 845.40 Q175.60 845.40 175.60 842.40 L175.60 828.90 Q175.60 826.80 176.16 824.78 L179.80 811.69 Q180.60 808.80 183.60 808.80 L189.90 808.80 Q192.90 808.80 192.90 811.80 L192.90 824.40 Q192.90 827.40 192.10 830.29 L188.70 842.51 Q187.90 845.40 184.90 845.40 Z" fill="url(#g_magb)"/><path d="M175.60 829.80 Q175.60 829.80 175.60 829.80 L175.60 828.30 Q175.60 826.80 176.16 824.78 L179.80 811.69 Q180.60 808.80 183.60 808.80 L189.90 808.80 Q192.90 808.80 192.10 811.69 L188.30 825.35 Q187.90 826.80 187.90 828.30 L187.90 829.80 Q187.90 829.80 187.90 829.80 Z" fill="url(#t_magb)"/><ellipse cx="183.60" cy="828.45" rx="3.80" ry="3.04" fill="url(#h_mag)"/>
<path d="M213.40 845.70 Q206.40 845.70 208.67 839.08 L212.08 829.13 Q213.70 824.40 218.70 824.40 L228.40 824.40 Q228.40 824.40 228.40 824.40 L221.10 845.70 Q221.10 845.70 221.10 845.70 Z" fill="#1f4571"/>
<path d="M224.10 845.40 Q221.10 845.40 221.10 842.40 L221.10 686.80 Q221.10 684.70 221.66 682.68 L225.30 669.59 Q226.10 666.70 229.10 666.70 L235.40 666.70 Q238.40 666.70 238.40 669.70 L238.40 824.40 Q238.40 827.40 237.60 830.29 L234.20 842.51 Q233.40 845.40 230.40 845.40 Z" fill="url(#g_redb)"/><path d="M221.10 687.70 Q221.10 687.70 221.10 687.70 L221.10 686.20 Q221.10 684.70 221.66 682.68 L225.30 669.59 Q226.10 666.70 229.10 666.70 L235.40 666.70 Q238.40 666.70 237.60 669.59 L233.80 683.25 Q233.40 684.70 233.40 686.20 L233.40 687.70 Q233.40 687.70 233.40 687.70 Z" fill="url(#t_redb)"/><ellipse cx="229.09" cy="686.35" rx="3.80" ry="3.04" fill="url(#h_red)"/>
<path d="M236.40 845.40 Q233.40 845.40 233.40 842.40 L233.40 801.90 Q233.40 799.80 233.96 797.78 L237.60 784.69 Q238.40 781.80 241.40 781.80 L247.70 781.80 Q250.70 781.80 250.70 784.80 L250.70 824.40 Q250.70 827.40 249.90 830.29 L246.50 842.51 Q245.70 845.40 242.70 845.40 Z" fill="url(#g_greenb)"/><path d="M233.40 802.80 Q233.40 802.80 233.40 802.80 L233.40 801.30 Q233.40 799.80 233.96 797.78 L237.60 784.69 Q238.40 781.80 241.40 781.80 L247.70 781.80 Q250.70 781.80 249.90 784.69 L246.10 798.35 Q245.70 799.80 245.70 801.30 L245.70 802.80 Q245.70 802.80 245.70 802.80 Z" fill="url(#t_greenb)"/><ellipse cx="241.40" cy="801.45" rx="3.80" ry="3.04" fill="url(#h_green)"/>
<path d="M248.70 845.40 Q245.70 845.40 245.70 842.40 L245.70 825.70 Q245.70 823.60 246.26 821.58 L249.90 808.49 Q250.70 805.60 253.70 805.60 L260.00 805.60 Q263.00 805.60 263.00 808.60 L263.00 824.40 Q263.00 827.40 262.20 830.29 L258.80 842.51 Q258.00 845.40 255.00 845.40 Z" fill="url(#g_magb)"/><path d="M245.70 826.60 Q245.70 826.60 245.70 826.60 L245.70 825.10 Q245.70 823.60 246.26 821.58 L249.90 808.49 Q250.70 805.60 253.70 805.60 L260.00 805.60 Q263.00 805.60 262.20 808.49 L258.40 822.15 Q258.00 823.60 258.00 825.10 L258.00 826.60 Q258.00 826.60 258.00 826.60 Z" fill="url(#t_magb)"/><ellipse cx="253.70" cy="825.25" rx="3.80" ry="3.04" fill="url(#h_mag)"/>
<path d="M283.50 845.70 Q276.50 845.70 278.77 839.08 L282.18 829.13 Q283.80 824.40 288.80 824.40 L298.50 824.40 Q298.50 824.40 298.50 824.40 L291.20 845.70 Q291.20 845.70 291.20 845.70 Z" fill="#1f4571"/>
<path d="M294.20 845.40 Q291.20 845.40 291.20 842.40 L291.20 674.60 Q291.20 672.50 291.76 670.48 L295.40 657.39 Q296.20 654.50 299.20 654.50 L305.50 654.50 Q308.50 654.50 308.50 657.50 L308.50 824.40 Q308.50 827.40 307.70 830.29 L304.30 842.51 Q303.50 845.40 300.50 845.40 Z" fill="url(#g_redb)"/><path d="M291.20 675.50 Q291.20 675.50 291.20 675.50 L291.20 674.00 Q291.20 672.50 291.76 670.48 L295.40 657.39 Q296.20 654.50 299.20 654.50 L305.50 654.50 Q308.50 654.50 307.70 657.39 L303.90 671.05 Q303.50 672.50 303.50 674.00 L303.50 675.50 Q303.50 675.50 303.50 675.50 Z" fill="url(#t_redb)"/><ellipse cx="299.19" cy="674.15" rx="3.80" ry="3.04" fill="url(#h_red)"/>
<path d="M306.50 845.40 Q303.50 845.40 303.50 842.40 L303.50 797.90 Q303.50 795.80 304.06 793.78 L307.70 780.69 Q308.50 777.80 311.50 777.80 L317.80 777.80 Q320.80 777.80 320.80 780.80 L320.80 824.40 Q320.80 827.40 320.00 830.29 L316.60 842.51 Q315.80 845.40 312.80 845.40 Z" fill="url(#g_greenb)"/><path d="M303.50 798.80 Q303.50 798.80 303.50 798.80 L303.50 797.30 Q303.50 795.80 304.06 793.78 L307.70 780.69 Q308.50 777.80 311.50 777.80 L317.80 777.80 Q320.80 777.80 320.00 780.69 L316.20 794.35 Q315.80 795.80 315.80 797.30 L315.80 798.80 Q315.80 798.80 315.80 798.80 Z" fill="url(#t_greenb)"/><ellipse cx="311.50" cy="797.45" rx="3.80" ry="3.04" fill="url(#h_green)"/>
<path d="M318.80 845.40 Q315.80 845.40 315.80 842.40 L315.80 822.80 Q315.80 820.70 316.36 818.68 L320.00 805.59 Q320.80 802.70 323.80 802.70 L330.10 802.70 Q333.10 802.70 333.10 805.70 L333.10 824.40 Q333.10 827.40 332.30 830.29 L328.90 842.51 Q328.10 845.40 325.10 845.40 Z" fill="url(#g_magb)"/><path d="M315.80 823.70 Q315.80 823.70 315.80 823.70 L315.80 822.20 Q315.80 820.70 316.36 818.68 L320.00 805.59 Q320.80 802.70 323.80 802.70 L330.10 802.70 Q333.10 802.70 332.30 805.59 L328.50 819.25 Q328.10 820.70 328.10 822.20 L328.10 823.70 Q328.10 823.70 328.10 823.70 Z" fill="url(#t_magb)"/><ellipse cx="323.80" cy="822.35" rx="3.80" ry="3.04" fill="url(#h_mag)"/>
<path d="M353.60 845.70 Q346.60 845.70 348.87 839.08 L352.28 829.13 Q353.90 824.40 358.90 824.40 L368.60 824.40 Q368.60 824.40 368.60 824.40 L361.30 845.70 Q361.30 845.70 361.30 845.70 Z" fill="#1f4571"/>
<path d="M364.30 845.40 Q361.30 845.40 361.30 842.40 L361.30 606.30 Q361.30 604.20 361.86 602.18 L365.50 589.09 Q366.30 586.20 369.30 586.20 L375.60 586.20 Q378.60 586.20 378.60 589.20 L378.60 824.40 Q378.60 827.40 377.80 830.29 L374.40 842.51 Q373.60 845.40 370.60 845.40 Z" fill="url(#g_redb)"/><path d="M361.30 607.20 Q361.30 607.20 361.30 607.20 L361.30 605.70 Q361.30 604.20 361.86 602.18 L365.50 589.09 Q366.30 586.20 369.30 586.20 L375.60 586.20 Q378.60 586.20 377.80 589.09 L374.00 602.75 Q373.60 604.20 373.60 605.70 L373.60 607.20 Q373.60 607.20 373.60 607.20 Z" fill="url(#t_redb)"/><ellipse cx="369.30" cy="605.85" rx="3.80" ry="3.04" fill="url(#h_red)"/>
<path d="M376.60 845.40 Q373.60 845.40 373.60 842.40 L373.60 791.10 Q373.60 789.00 374.16 786.98 L377.80 773.89 Q378.60 771.00 381.60 771.00 L387.90 771.00 Q390.90 771.00 390.90 774.00 L390.90 824.40 Q390.90 827.40 390.10 830.29 L386.70 842.51 Q385.90 845.40 382.90 845.40 Z" fill="url(#g_greenb)"/><path d="M373.60 792.00 Q373.60 792.00 373.60 792.00 L373.60 790.50 Q373.60 789.00 374.16 786.98 L377.80 773.89 Q378.60 771.00 381.60 771.00 L387.90 771.00 Q390.90 771.00 390.10 773.89 L386.30 787.55 Q385.90 789.00 385.90 790.50 L385.90 792.00 Q385.90 792.00 385.90 792.00 Z" fill="url(#t_greenb)"/><ellipse cx="381.60" cy="790.65" rx="3.80" ry="3.04" fill="url(#h_green)"/>
<path d="M388.90 845.40 Q385.90 845.40 385.90 842.40 L385.90 821.60 Q385.90 819.50 386.46 817.48 L390.10 804.39 Q390.90 801.50 393.90 801.50 L400.20 801.50 Q403.20 801.50 403.20 804.50 L403.20 824.40 Q403.20 827.40 402.40 830.29 L399.00 842.51 Q398.20 845.40 395.20 845.40 Z" fill="url(#g_magb)"/><path d="M385.90 822.50 Q385.90 822.50 385.90 822.50 L385.90 821.00 Q385.90 819.50 386.46 817.48 L390.10 804.39 Q390.90 801.50 393.90 801.50 L400.20 801.50 Q403.20 801.50 402.40 804.39 L398.60 818.05 Q398.20 819.50 398.20 821.00 L398.20 822.50 Q398.20 822.50 398.20 822.50 Z" fill="url(#t_magb)"/><ellipse cx="393.90" cy="821.15" rx="3.80" ry="3.04" fill="url(#h_mag)"/>
<path d="M423.70 845.70 Q416.70 845.70 418.97 839.08 L422.38 829.13 Q424.00 824.40 429.00 824.40 L438.70 824.40 Q438.70 824.40 438.70 824.40 L431.40 845.70 Q431.40 845.70 431.40 845.70 Z" fill="#1f4571"/>
<path d="M434.40 845.40 Q431.40 845.40 431.40 842.40 L431.40 647.90 Q431.40 645.80 431.96 643.78 L435.60 630.69 Q436.40 627.80 439.40 627.80 L445.70 627.80 Q448.70 627.80 448.70 630.80 L448.70 824.40 Q448.70 827.40 447.90 830.29 L444.50 842.51 Q443.70 845.40 440.70 845.40 Z" fill="url(#g_redb)"/><path d="M431.40 648.80 Q431.40 648.80 431.40 648.80 L431.40 647.30 Q431.40 645.80 431.96 643.78 L435.60 630.69 Q436.40 627.80 439.40 627.80 L445.70 627.80 Q448.70 627.80 447.90 630.69 L444.10 644.35 Q443.70 645.80 443.70 647.30 L443.70 648.80 Q443.70 648.80 443.70 648.80 Z" fill="url(#t_redb)"/><ellipse cx="439.39" cy="647.45" rx="3.80" ry="3.04" fill="url(#h_red)"/>
<path d="M446.70 845.40 Q443.70 845.40 443.70 842.40 L443.70 786.70 Q443.70 784.60 444.26 782.58 L447.90 769.49 Q448.70 766.60 451.70 766.60 L458.00 766.60 Q461.00 766.60 461.00 769.60 L461.00 824.40 Q461.00 827.40 460.20 830.29 L456.80 842.51 Q456.00 845.40 453.00 845.40 Z" fill="url(#g_greenb)"/><path d="M443.70 787.60 Q443.70 787.60 443.70 787.60 L443.70 786.10 Q443.70 784.60 444.26 782.58 L447.90 769.49 Q448.70 766.60 451.70 766.60 L458.00 766.60 Q461.00 766.60 460.20 769.49 L456.40 783.15 Q456.00 784.60 456.00 786.10 L456.00 787.60 Q456.00 787.60 456.00 787.60 Z" fill="url(#t_greenb)"/><ellipse cx="451.69" cy="786.25" rx="3.80" ry="3.04" fill="url(#h_green)"/>
<path d="M459.00 845.40 Q456.00 845.40 456.00 842.40 L456.00 817.00 Q456.00 814.90 456.56 812.88 L460.20 799.79 Q461.00 796.90 464.00 796.90 L470.30 796.90 Q473.30 796.90 473.30 799.90 L473.30 824.40 Q473.30 827.40 472.50 830.29 L469.10 842.51 Q468.30 845.40 465.30 845.40 Z" fill="url(#g_magb)"/><path d="M456.00 817.90 Q456.00 817.90 456.00 817.90 L456.00 816.40 Q456.00 814.90 456.56 812.88 L460.20 799.79 Q461.00 796.90 464.00 796.90 L470.30 796.90 Q473.30 796.90 472.50 799.79 L468.70 813.45 Q468.30 814.90 468.30 816.40 L468.30 817.90 Q468.30 817.90 468.30 817.90 Z" fill="url(#t_magb)"/><ellipse cx="464.00" cy="816.55" rx="3.80" ry="3.04" fill="url(#h_mag)"/>
<path d="M493.80 845.70 Q486.80 845.70 489.07 839.08 L492.48 829.13 Q494.10 824.40 499.10 824.40 L508.80 824.40 Q508.80 824.40 508.80 824.40 L501.50 845.70 Q501.50 845.70 501.50 845.70 Z" fill="#1f4571"/>
<path d="M504.50 845.40 Q501.50 845.40 501.50 842.40 L501.50 675.50 Q501.50 673.40 502.06 671.38 L505.70 658.29 Q506.50 655.40 509.50 655.40 L515.80 655.40 Q518.80 655.40 518.80 658.40 L518.80 824.40 Q518.80 827.40 518.00 830.29 L514.60 842.51 Q513.80 845.40 510.80 845.40 Z" fill="url(#g_redb)"/><path d="M501.50 676.40 Q501.50 676.40 501.50 676.40 L501.50 674.90 Q501.50 673.40 502.06 671.38 L505.70 658.29 Q506.50 655.40 509.50 655.40 L515.80 655.40 Q518.80 655.40 518.00 658.29 L514.20 671.95 Q513.80 673.40 513.80 674.90 L513.80 676.40 Q513.80 676.40 513.80 676.40 Z" fill="url(#t_redb)"/><ellipse cx="509.50" cy="675.05" rx="3.80" ry="3.04" fill="url(#h_red)"/>
<path d="M516.80 845.40 Q513.80 845.40 513.80 842.40 L513.80 771.50 Q513.80 769.40 514.36 767.38 L518.00 754.29 Q518.80 751.40 521.80 751.40 L528.10 751.40 Q531.10 751.40 531.10 754.40 L531.10 824.40 Q531.10 827.40 530.30 830.29 L526.90 842.51 Q526.10 845.40 523.10 845.40 Z" fill="url(#g_greenb)"/><path d="M513.80 772.40 Q513.80 772.40 513.80 772.40 L513.80 770.90 Q513.80 769.40 514.36 767.38 L518.00 754.29 Q518.80 751.40 521.80 751.40 L528.10 751.40 Q531.10 751.40 530.30 754.29 L526.50 767.95 Q526.10 769.40 526.10 770.90 L526.10 772.40 Q526.10 772.40 526.10 772.40 Z" fill="url(#t_greenb)"/><ellipse cx="521.79" cy="771.05" rx="3.80" ry="3.04" fill="url(#h_green)"/>
<path d="M529.10 845.40 Q526.10 845.40 526.10 842.40 L526.10 823.10 Q526.10 821.00 526.66 818.98 L530.30 805.89 Q531.10 803.00 534.10 803.00 L540.40 803.00 Q543.40 803.00 543.40 806.00 L543.40 824.40 Q543.40 827.40 542.60 830.29 L539.20 842.51 Q538.40 845.40 535.40 845.40 Z" fill="url(#g_magb)"/><path d="M526.10 824.00 Q526.10 824.00 526.10 824.00 L526.10 822.50 Q526.10 821.00 526.66 818.98 L530.30 805.89 Q531.10 803.00 534.10 803.00 L540.40 803.00 Q543.40 803.00 542.60 805.89 L538.80 819.55 Q538.40 821.00 538.40 822.50 L538.40 824.00 Q538.40 824.00 538.40 824.00 Z" fill="url(#t_magb)"/><ellipse cx="534.09" cy="822.65" rx="3.80" ry="3.04" fill="url(#h_mag)"/>
<path d="M563.90 845.70 Q556.90 845.70 559.17 839.08 L562.58 829.13 Q564.20 824.40 569.20 824.40 L578.90 824.40 Q578.90 824.40 578.90 824.40 L571.60 845.70 Q571.60 845.70 571.60 845.70 Z" fill="#1f4571"/>
<path d="M574.60 845.40 Q571.60 845.40 571.60 842.40 L571.60 655.80 Q571.60 653.70 572.16 651.68 L575.80 638.59 Q576.60 635.70 579.60 635.70 L585.90 635.70 Q588.90 635.70 588.90 638.70 L588.90 824.40 Q588.90 827.40 588.10 830.29 L584.70 842.51 Q583.90 845.40 580.90 845.40 Z" fill="url(#g_redb)"/><path d="M571.60 656.70 Q571.60 656.70 571.60 656.70 L571.60 655.20 Q571.60 653.70 572.16 651.68 L575.80 638.59 Q576.60 635.70 579.60 635.70 L585.90 635.70 Q588.90 635.70 588.10 638.59 L584.30 652.25 Q583.90 653.70 583.90 655.20 L583.90 656.70 Q583.90 656.70 583.90 656.70 Z" fill="url(#t_redb)"/><ellipse cx="579.59" cy="655.35" rx="3.80" ry="3.04" fill="url(#h_red)"/>
<path d="M586.90 845.40 Q583.90 845.40 583.90 842.40 L583.90 752.30 Q583.90 750.20 584.46 748.18 L588.10 735.09 Q588.90 732.20 591.90 732.20 L598.20 732.20 Q601.20 732.20 601.20 735.20 L601.20 824.40 Q601.20 827.40 600.40 830.29 L597.00 842.51 Q596.20 845.40 593.20 845.40 Z" fill="url(#g_greenb)"/><path d="M583.90 753.20 Q583.90 753.20 583.90 753.20 L583.90 751.70 Q583.90 750.20 584.46 748.18 L588.10 735.09 Q588.90 732.20 591.90 732.20 L598.20 732.20 Q601.20 732.20 600.40 735.09 L596.60 748.75 Q596.20 750.20 596.20 751.70 L596.20 753.20 Q596.20 753.20 596.20 753.20 Z" fill="url(#t_greenb)"/><ellipse cx="591.89" cy="751.85" rx="3.80" ry="3.04" fill="url(#h_green)"/>
<path d="M599.20 845.40 Q596.20 845.40 596.20 842.40 L596.20 821.10 Q596.20 819.00 596.76 816.98 L600.40 803.89 Q601.20 801.00 604.20 801.00 L610.50 801.00 Q613.50 801.00 613.50 804.00 L613.50 824.40 Q613.50 827.40 612.70 830.29 L609.30 842.51 Q608.50 845.40 605.50 845.40 Z" fill="url(#g_magb)"/><path d="M596.20 822.00 Q596.20 822.00 596.20 822.00 L596.20 820.50 Q596.20 819.00 596.76 816.98 L600.40 803.89 Q601.20 801.00 604.20 801.00 L610.50 801.00 Q613.50 801.00 612.70 803.89 L608.90 817.55 Q608.50 819.00 608.50 820.50 L608.50 822.00 Q608.50 822.00 608.50 822.00 Z" fill="url(#t_magb)"/><ellipse cx="604.19" cy="820.65" rx="3.80" ry="3.04" fill="url(#h_mag)"/>
<text x="101.80" y="869.70" font-size="23.5" text-anchor="end">0.00</text>
<text x="101.80" y="831.50" font-size="23.5" text-anchor="end">0.10</text>
<text x="101.80" y="793.30" font-size="23.5" text-anchor="end">0.20</text>
<text x="101.80" y="755.10" font-size="23.5" text-anchor="end">0.30</text>
<text x="101.80" y="716.90" font-size="23.5" text-anchor="end">0.40</text>
<text x="101.80" y="678.70" font-size="23.5" text-anchor="end">0.50</text>
<text x="101.80" y="640.50" font-size="23.5" text-anchor="end">0.60</text>
<text x="101.80" y="602.30" font-size="23.5" text-anchor="end">0.70</text>
<text x="156.52" y="896.50" font-size="23.5" text-anchor="middle">600</text>
<text x="226.56" y="896.50" font-size="23.5" text-anchor="middle">750</text>
<text x="296.61" y="896.50" font-size="23.5" text-anchor="middle">850</text>
<text x="366.65" y="896.50" font-size="23.5" text-anchor="middle">700</text>
<text x="436.69" y="896.50" font-size="23.5" text-anchor="middle">400</text>
<text x="506.74" y="896.50" font-size="23.5" text-anchor="middle">300</text>
<text x="576.78" y="896.50" font-size="23.5" text-anchor="middle">100</text>
<text x="380.00" y="936.00" font-size="23.5" text-anchor="middle">Solar irradiance (W/m²)</text>
<text x="350.40" y="970.00" font-size="21" text-anchor="middle" font-weight="bold">(b)</text>
<text x="35.20" y="723.00" font-size="23.5" text-anchor="middle" transform="rotate(-90 35.20 723.00)">Response time (s)</text>
<rect x="-0.50" y="510.30" width="11.40" height="12.20" fill="#3f7fcc"/><polygon points="-0.50,510.30 10.90,510.30 5.20,516.40" fill="#5ea6ee"/><polygon points="-0.50,522.50 10.90,522.50 5.20,516.40" fill="#2f62a2"/>
<text x="15.80" y="523.70" font-size="23.5" text-anchor="start">Ppv_Without MPPT</text>
<rect x="219.20" y="508.80" width="16.6" height="15.1" fill="#050505"/><rect x="221.70" y="511.30" width="11.60" height="10.10" fill="#f40000"/><polygon points="221.70,511.30 233.30,511.30 227.50,516.35" fill="#ff3838"/><polygon points="221.70,521.40 233.30,521.40 227.50,516.35" fill="#e60c0c"/>
<text x="238.80" y="523.70" font-size="23.5" text-anchor="start">Ppv_P&amp;O</text>
<rect x="343.80" y="508.80" width="16.6" height="15.1" fill="#050505"/><rect x="346.30" y="511.30" width="11.60" height="10.10" fill="#92d050"/><polygon points="346.30,511.30 357.90,511.30 352.10,516.35" fill="#b4ee78"/><polygon points="346.30,521.40 357.90,521.40 352.10,516.35" fill="#7ab63e"/>
<text x="363.00" y="523.70" font-size="23.5" text-anchor="start">Ppv_FLC</text>
<rect x="465.20" y="508.80" width="16.6" height="15.1" fill="#050505"/><rect x="467.70" y="511.30" width="11.60" height="10.10" fill="#d80ea0"/><polygon points="467.70,511.30 479.30,511.30 473.50,516.35" fill="#f248c0"/><polygon points="467.70,521.40 479.30,521.40 473.50,516.35" fill="#b80886"/>
<text x="482.60" y="523.70" font-size="23.5" text-anchor="start">Ppv_Hyb(P&amp;O/FLC)</text>
<line x1="137.70" y1="1058.60" x2="137.70" y2="1331.40" stroke="#8a8a8a" stroke-width="2.4" stroke-linecap="square"/>
<line x1="208.41" y1="1058.60" x2="208.41" y2="1331.40" stroke="#8a8a8a" stroke-width="2.4" stroke-linecap="square"/>
<line x1="279.13" y1="1058.60" x2="279.13" y2="1331.40" stroke="#8a8a8a" stroke-width="2.4" stroke-linecap="square"/>
<line x1="349.84" y1="1058.60" x2="349.84" y2="1331.40" stroke="#8a8a8a" stroke-width="2.4" stroke-linecap="square"/>
<line x1="420.56" y1="1058.60" x2="420.56" y2="1331.40" stroke="#8a8a8a" stroke-width="2.4" stroke-linecap="square"/>
<line x1="491.27" y1="1058.60" x2="491.27" y2="1331.40" stroke="#8a8a8a" stroke-width="2.4" stroke-linecap="square"/>
<line x1="561.99" y1="1058.60" x2="561.99" y2="1331.40" stroke="#8a8a8a" stroke-width="2.4" stroke-linecap="square"/>
<line x1="632.70" y1="1058.60" x2="632.70" y2="1331.40" stroke="#8a8a8a" stroke-width="2.4" stroke-linecap="square"/>
<line x1="137.70" y1="1058.60" x2="632.70" y2="1058.60" stroke="#8a8a8a" stroke-width="2.4" stroke-linecap="square"/>
<line x1="137.70" y1="1097.57" x2="632.70" y2="1097.57" stroke="#8a8a8a" stroke-width="2.4" stroke-linecap="square"/>
<line x1="137.70" y1="1136.54" x2="632.70" y2="1136.54" stroke="#8a8a8a" stroke-width="2.4" stroke-linecap="square"/>
<line x1="137.70" y1="1175.51" x2="632.70" y2="1175.51" stroke="#8a8a8a" stroke-width="2.4" stroke-linecap="square"/>
<line x1="137.70" y1="1214.49" x2="632.70" y2="1214.49" stroke="#8a8a8a" stroke-width="2.4" stroke-linecap="square"/>
<line x1="137.70" y1="1253.46" x2="632.70" y2="1253.46" stroke="#8a8a8a" stroke-width="2.4" stroke-linecap="square"/>
<line x1="137.70" y1="1292.43" x2="632.70" y2="1292.43" stroke="#8a8a8a" stroke-width="2.4" stroke-linecap="square"/>
<line x1="137.70" y1="1331.40" x2="632.70" y2="1331.40" stroke="#8a8a8a" stroke-width="2.4" stroke-linecap="square"/>
<line x1="115.60" y1="1110.31" x2="115.60" y2="1383.10" stroke="#8a8a8a" stroke-width="2.4" stroke-linecap="square"/>
<line x1="115.60" y1="1383.10" x2="137.70" y2="1331.40" stroke="#8a8a8a" stroke-width="2.4" stroke-linecap="square"/>
<line x1="109.00" y1="1383.10" x2="115.60" y2="1383.10" stroke="#8a8a8a" stroke-width="2.4" stroke-linecap="square"/>
<line x1="115.60" y1="1344.13" x2="137.70" y2="1292.43" stroke="#8a8a8a" stroke-width="2.4" stroke-linecap="square"/>
<line x1="109.00" y1="1344.13" x2="115.60" y2="1344.13" stroke="#8a8a8a" stroke-width="2.4" stroke-linecap="square"/>
<line x1="115.60" y1="1305.16" x2="137.70" y2="1253.46" stroke="#8a8a8a" stroke-width="2.4" stroke-linecap="square"/>
<line x1="109.00" y1="1305.16" x2="115.60" y2="1305.16" stroke="#8a8a8a" stroke-width="2.4" stroke-linecap="square"/>
<line x1="115.60" y1="1266.19" x2="137.70" y2="1214.49" stroke="#8a8a8a" stroke-width="2.4" stroke-linecap="square"/>
<line x1="109.00" y1="1266.19" x2="115.60" y2="1266.19" stroke="#8a8a8a" stroke-width="2.4" stroke-linecap="square"/>
<line x1="115.60" y1="1227.22" x2="137.70" y2="1175.51" stroke="#8a8a8a" stroke-width="2.4" stroke-linecap="square"/>
<line x1="109.00" y1="1227.22" x2="115.60" y2="1227.22" stroke="#8a8a8a" stroke-width="2.4" stroke-linecap="square"/>
<line x1="115.60" y1="1188.25" x2="137.70" y2="1136.54" stroke="#8a8a8a" stroke-width="2.4" stroke-linecap="square"/>
<line x1="109.00" y1="1188.25" x2="115.60" y2="1188.25" stroke="#8a8a8a" stroke-width="2.4" stroke-linecap="square"/>
<line x1="115.60" y1="1149.28" x2="137.70" y2="1097.57" stroke="#8a8a8a" stroke-width="2.4" stroke-linecap="square"/>
<line x1="109.00" y1="1149.28" x2="115.60" y2="1149.28" stroke="#8a8a8a" stroke-width="2.4" stroke-linecap="square"/>
<line x1="115.60" y1="1110.31" x2="137.70" y2="1058.60" stroke="#8a8a8a" stroke-width="2.4" stroke-linecap="square"/>
<line x1="109.00" y1="1110.31" x2="115.60" y2="1110.31" stroke="#8a8a8a" stroke-width="2.4" stroke-linecap="square"/>
<clipPath id="flc"><polygon points="115.6,1383.1 137.7,1331.4 632.7,1331.4 609.3,1383.1"/></clipPath>
<g clip-path="url(#flc)"><path d="M130.46 1372.00 Q128.46 1372.00 129.25 1370.16 L141.95 1340.44 Q142.74 1338.60 144.74 1338.60 L199.24 1338.60 Q201.24 1338.60 200.45 1340.44 L187.75 1370.16 Q186.96 1372.00 184.96 1372.00 Z" fill="#c8c8c8" opacity="1" filter="url(#blur4)"/><path d="M136.03 1369.50 Q134.03 1369.50 134.82 1367.66 L143.03 1348.44 Q143.82 1346.60 145.82 1346.60 L193.32 1346.60 Q195.32 1346.60 194.53 1348.44 L186.32 1367.66 Q185.53 1369.50 183.53 1369.50 Z" fill="#909090" opacity="0.55" filter="url(#blur3)"/><path d="M201.16 1372.00 Q199.16 1372.00 199.95 1370.16 L212.65 1340.44 Q213.44 1338.60 215.44 1338.60 L269.94 1338.60 Q271.94 1338.60 271.15 1340.44 L258.45 1370.16 Q257.66 1372.00 255.66 1372.00 Z" fill="#c8c8c8" opacity="1" filter="url(#blur4)"/><path d="M206.73 1369.50 Q204.73 1369.50 205.52 1367.66 L213.73 1348.44 Q214.52 1346.60 216.52 1346.60 L264.02 1346.60 Q266.02 1346.60 265.23 1348.44 L257.02 1367.66 Q256.23 1369.50 254.23 1369.50 Z" fill="#909090" opacity="0.55" filter="url(#blur3)"/><path d="M271.86 1372.00 Q269.86 1372.00 270.65 1370.16 L283.35 1340.44 Q284.14 1338.60 286.14 1338.60 L340.64 1338.60 Q342.64 1338.60 341.85 1340.44 L329.15 1370.16 Q328.36 1372.00 326.36 1372.00 Z" fill="#c8c8c8" opacity="1" filter="url(#blur4)"/><path d="M277.43 1369.50 Q275.43 1369.50 276.22 1367.66 L284.43 1348.44 Q285.22 1346.60 287.22 1346.60 L334.72 1346.60 Q336.72 1346.60 335.93 1348.44 L327.72 1367.66 Q326.93 1369.50 324.93 1369.50 Z" fill="#909090" opacity="0.55" filter="url(#blur3)"/><path d="M342.56 1372.00 Q340.56 1372.00 341.35 1370.16 L354.05 1340.44 Q354.84 1338.60 356.84 1338.60 L411.34 1338.60 Q413.34 1338.60 412.55 1340.44 L399.85 1370.16 Q399.06 1372.00 397.06 1372.00 Z" fill="#c8c8c8" opacity="1" filter="url(#blur4)"/><path d="M348.13 1369.50 Q346.13 1369.50 346.92 1367.66 L355.13 1348.44 Q355.92 1346.60 357.92 1346.60 L405.42 1346.60 Q407.42 1346.60 406.63 1348.44 L398.42 1367.66 Q397.63 1369.50 395.63 1369.50 Z" fill="#909090" opacity="0.55" filter="url(#blur3)"/><path d="M413.26 1372.00 Q411.26 1372.00 412.05 1370.16 L424.75 1340.44 Q425.54 1338.60 427.54 1338.60 L482.04 1338.60 Q484.04 1338.60 483.25 1340.44 L470.55 1370.16 Q469.76 1372.00 467.76 1372.00 Z" fill="#c8c8c8" opacity="1" filter="url(#blur4)"/><path d="M418.83 1369.50 Q416.83 1369.50 417.62 1367.66 L425.83 1348.44 Q426.62 1346.60 428.62 1346.60 L476.12 1346.60 Q478.12 1346.60 477.33 1348.44 L469.12 1367.66 Q468.33 1369.50 466.33 1369.50 Z" fill="#909090" opacity="0.55" filter="url(#blur3)"/><path d="M483.96 1372.00 Q481.96 1372.00 482.75 1370.16 L495.45 1340.44 Q496.24 1338.60 498.24 1338.60 L552.74 1338.60 Q554.74 1338.60 553.95 1340.44 L541.25 1370.16 Q540.46 1372.00 538.46 1372.00 Z" fill="#c8c8c8" opacity="1" filter="url(#blur4)"/><path d="M489.53 1369.50 Q487.53 1369.50 488.32 1367.66 L496.53 1348.44 Q497.32 1346.60 499.32 1346.60 L546.82 1346.60 Q548.82 1346.60 548.03 1348.44 L539.82 1367.66 Q539.03 1369.50 537.03 1369.50 Z" fill="#909090" opacity="0.55" filter="url(#blur3)"/><path d="M554.66 1372.00 Q552.66 1372.00 553.45 1370.16 L566.15 1340.44 Q566.94 1338.60 568.94 1338.60 L623.44 1338.60 Q625.44 1338.60 624.65 1340.44 L611.95 1370.16 Q611.16 1372.00 609.16 1372.00 Z" fill="#c8c8c8" opacity="1" filter="url(#blur4)"/><path d="M560.23 1369.50 Q558.23 1369.50 559.02 1367.66 L567.23 1348.44 Q568.02 1346.60 570.02 1346.60 L617.52 1346.60 Q619.52 1346.60 618.73 1348.44 L610.52 1367.66 Q609.73 1369.50 607.73 1369.50 Z" fill="#909090" opacity="0.55" filter="url(#blur3)"/></g>
<line x1="115.60" y1="1383.10" x2="609.30" y2="1383.10" stroke="#8a8a8a" stroke-width="2.4" stroke-linecap="square"/>
<line x1="115.60" y1="1383.10" x2="137.70" y2="1331.40" stroke="#8a8a8a" stroke-width="2.4" stroke-linecap="square"/>
<line x1="115.60" y1="1383.10" x2="115.60" y2="1389.80" stroke="#8a8a8a" stroke-width="2.4" stroke-linecap="square"/>
<line x1="186.13" y1="1383.10" x2="208.41" y2="1331.40" stroke="#8a8a8a" stroke-width="2.4" stroke-linecap="square"/>
<line x1="186.13" y1="1383.10" x2="186.13" y2="1389.80" stroke="#8a8a8a" stroke-width="2.4" stroke-linecap="square"/>
<line x1="256.66" y1="1383.10" x2="279.13" y2="1331.40" stroke="#8a8a8a" stroke-width="2.4" stroke-linecap="square"/>
<line x1="256.66" y1="1383.10" x2="256.66" y2="1389.80" stroke="#8a8a8a" stroke-width="2.4" stroke-linecap="square"/>
<line x1="327.19" y1="1383.10" x2="349.84" y2="1331.40" stroke="#8a8a8a" stroke-width="2.4" stroke-linecap="square"/>
<line x1="327.19" y1="1383.10" x2="327.19" y2="1389.80" stroke="#8a8a8a" stroke-width="2.4" stroke-linecap="square"/>
<line x1="397.71" y1="1383.10" x2="420.56" y2="1331.40" stroke="#8a8a8a" stroke-width="2.4" stroke-linecap="square"/>
<line x1="397.71" y1="1383.10" x2="397.71" y2="1389.80" stroke="#8a8a8a" stroke-width="2.4" stroke-linecap="square"/>
<line x1="468.24" y1="1383.10" x2="491.27" y2="1331.40" stroke="#8a8a8a" stroke-width="2.4" stroke-linecap="square"/>
<line x1="468.24" y1="1383.10" x2="468.24" y2="1389.80" stroke="#8a8a8a" stroke-width="2.4" stroke-linecap="square"/>
<line x1="538.77" y1="1383.10" x2="561.99" y2="1331.40" stroke="#8a8a8a" stroke-width="2.4" stroke-linecap="square"/>
<line x1="538.77" y1="1383.10" x2="538.77" y2="1389.80" stroke="#8a8a8a" stroke-width="2.4" stroke-linecap="square"/>
<line x1="609.30" y1="1383.10" x2="632.70" y2="1331.40" stroke="#8a8a8a" stroke-width="2.4" stroke-linecap="square"/>
<line x1="609.30" y1="1383.10" x2="609.30" y2="1389.80" stroke="#8a8a8a" stroke-width="2.4" stroke-linecap="square"/>
<path d="M138.60 1367.00 Q135.60 1367.00 135.60 1364.00 L135.60 1232.40 Q135.60 1230.30 136.31 1228.33 L140.88 1215.72 Q141.90 1212.90 144.90 1212.90 L154.40 1212.90 Q157.40 1212.90 157.40 1215.90 L157.40 1346.60 Q157.40 1349.60 156.38 1352.42 L152.12 1364.18 Q151.10 1367.00 148.10 1367.00 Z" fill="url(#g_redc)"/><path d="M135.60 1233.30 Q135.60 1233.30 135.60 1233.30 L135.60 1231.80 Q135.60 1230.30 136.31 1228.33 L140.88 1215.72 Q141.90 1212.90 144.90 1212.90 L154.40 1212.90 Q157.40 1212.90 156.38 1215.72 L151.61 1228.89 Q151.10 1230.30 151.10 1231.80 L151.10 1233.30 Q151.10 1233.30 151.10 1233.30 Z" fill="url(#t_redc)"/><ellipse cx="146.76" cy="1231.95" rx="3.80" ry="3.04" fill="url(#h_red)"/>
<path d="M154.10 1367.00 Q151.10 1367.00 151.10 1364.00 L151.10 1218.30 Q151.10 1216.20 151.81 1214.23 L156.38 1201.62 Q157.40 1198.80 160.40 1198.80 L169.90 1198.80 Q172.90 1198.80 172.90 1201.80 L172.90 1346.60 Q172.90 1349.60 171.88 1352.42 L167.62 1364.18 Q166.60 1367.00 163.60 1367.00 Z" fill="url(#g_greenc)"/><path d="M151.10 1219.20 Q151.10 1219.20 151.10 1219.20 L151.10 1217.70 Q151.10 1216.20 151.81 1214.23 L156.38 1201.62 Q157.40 1198.80 160.40 1198.80 L169.90 1198.80 Q172.90 1198.80 171.88 1201.62 L167.11 1214.79 Q166.60 1216.20 166.60 1217.70 L166.60 1219.20 Q166.60 1219.20 166.60 1219.20 Z" fill="url(#t_greenc)"/><ellipse cx="162.26" cy="1217.85" rx="3.80" ry="3.04" fill="url(#h_green)"/>
<path d="M169.60 1367.00 Q166.60 1367.00 166.60 1364.00 L166.60 1189.10 Q166.60 1187.00 167.31 1185.03 L171.88 1172.42 Q172.90 1169.60 175.90 1169.60 L185.40 1169.60 Q188.40 1169.60 188.40 1172.60 L188.40 1346.60 Q188.40 1349.60 187.38 1352.42 L183.12 1364.18 Q182.10 1367.00 179.10 1367.00 Z" fill="url(#g_magc)"/><path d="M166.60 1190.00 Q166.60 1190.00 166.60 1190.00 L166.60 1188.50 Q166.60 1187.00 167.31 1185.03 L171.88 1172.42 Q172.90 1169.60 175.90 1169.60 L185.40 1169.60 Q188.40 1169.60 187.38 1172.42 L182.61 1185.59 Q182.10 1187.00 182.10 1188.50 L182.10 1190.00 Q182.10 1190.00 182.10 1190.00 Z" fill="url(#t_magc)"/><ellipse cx="177.76" cy="1188.65" rx="3.80" ry="3.04" fill="url(#h_mag)"/>
<path d="M209.30 1367.00 Q206.30 1367.00 206.30 1364.00 L206.30 1223.40 Q206.30 1221.30 207.01 1219.33 L211.58 1206.72 Q212.60 1203.90 215.60 1203.90 L225.10 1203.90 Q228.10 1203.90 228.10 1206.90 L228.10 1346.60 Q228.10 1349.60 227.08 1352.42 L222.82 1364.18 Q221.80 1367.00 218.80 1367.00 Z" fill="url(#g_redc)"/><path d="M206.30 1224.30 Q206.30 1224.30 206.30 1224.30 L206.30 1222.80 Q206.30 1221.30 207.01 1219.33 L211.58 1206.72 Q212.60 1203.90 215.60 1203.90 L225.10 1203.90 Q228.10 1203.90 227.08 1206.72 L222.31 1219.89 Q221.80 1221.30 221.80 1222.80 L221.80 1224.30 Q221.80 1224.30 221.80 1224.30 Z" fill="url(#t_redc)"/><ellipse cx="217.46" cy="1222.95" rx="3.80" ry="3.04" fill="url(#h_red)"/>
<path d="M224.80 1367.00 Q221.80 1367.00 221.80 1364.00 L221.80 1205.90 Q221.80 1203.80 222.51 1201.83 L227.08 1189.22 Q228.10 1186.40 231.10 1186.40 L240.60 1186.40 Q243.60 1186.40 243.60 1189.40 L243.60 1346.60 Q243.60 1349.60 242.58 1352.42 L238.32 1364.18 Q237.30 1367.00 234.30 1367.00 Z" fill="url(#g_greenc)"/><path d="M221.80 1206.80 Q221.80 1206.80 221.80 1206.80 L221.80 1205.30 Q221.80 1203.80 222.51 1201.83 L227.08 1189.22 Q228.10 1186.40 231.10 1186.40 L240.60 1186.40 Q243.60 1186.40 242.58 1189.22 L237.81 1202.39 Q237.30 1203.80 237.30 1205.30 L237.30 1206.80 Q237.30 1206.80 237.30 1206.80 Z" fill="url(#t_greenc)"/><ellipse cx="232.96" cy="1205.45" rx="3.80" ry="3.04" fill="url(#h_green)"/>
<path d="M240.30 1367.00 Q237.30 1367.00 237.30 1364.00 L237.30 1163.60 Q237.30 1161.50 238.01 1159.53 L242.58 1146.92 Q243.60 1144.10 246.60 1144.10 L256.10 1144.10 Q259.10 1144.10 259.10 1147.10 L259.10 1346.60 Q259.10 1349.60 258.08 1352.42 L253.82 1364.18 Q252.80 1367.00 249.80 1367.00 Z" fill="url(#g_magc)"/><path d="M237.30 1164.50 Q237.30 1164.50 237.30 1164.50 L237.30 1163.00 Q237.30 1161.50 238.01 1159.53 L242.58 1146.92 Q243.60 1144.10 246.60 1144.10 L256.10 1144.10 Q259.10 1144.10 258.08 1146.92 L253.31 1160.09 Q252.80 1161.50 252.80 1163.00 L252.80 1164.50 Q252.80 1164.50 252.80 1164.50 Z" fill="url(#t_magc)"/><ellipse cx="248.46" cy="1163.15" rx="3.80" ry="3.04" fill="url(#h_mag)"/>
<path d="M280.00 1367.00 Q277.00 1367.00 277.00 1364.00 L277.00 1233.40 Q277.00 1231.30 277.71 1229.33 L282.28 1216.72 Q283.30 1213.90 286.30 1213.90 L295.80 1213.90 Q298.80 1213.90 298.80 1216.90 L298.80 1346.60 Q298.80 1349.60 297.78 1352.42 L293.52 1364.18 Q292.50 1367.00 289.50 1367.00 Z" fill="url(#g_redc)"/><path d="M277.00 1234.30 Q277.00 1234.30 277.00 1234.30 L277.00 1232.80 Q277.00 1231.30 277.71 1229.33 L282.28 1216.72 Q283.30 1213.90 286.30 1213.90 L295.80 1213.90 Q298.80 1213.90 297.78 1216.72 L293.01 1229.89 Q292.50 1231.30 292.50 1232.80 L292.50 1234.30 Q292.50 1234.30 292.50 1234.30 Z" fill="url(#t_redc)"/><ellipse cx="288.16" cy="1232.95" rx="3.80" ry="3.04" fill="url(#h_red)"/>
<path d="M295.50 1367.00 Q292.50 1367.00 292.50 1364.00 L292.50 1216.70 Q292.50 1214.60 293.21 1212.63 L297.78 1200.02 Q298.80 1197.20 301.80 1197.20 L311.30 1197.20 Q314.30 1197.20 314.30 1200.20 L314.30 1346.60 Q314.30 1349.60 313.28 1352.42 L309.02 1364.18 Q308.00 1367.00 305.00 1367.00 Z" fill="url(#g_greenc)"/><path d="M292.50 1217.60 Q292.50 1217.60 292.50 1217.60 L292.50 1216.10 Q292.50 1214.60 293.21 1212.63 L297.78 1200.02 Q298.80 1197.20 301.80 1197.20 L311.30 1197.20 Q314.30 1197.20 313.28 1200.02 L308.51 1213.19 Q308.00 1214.60 308.00 1216.10 L308.00 1217.60 Q308.00 1217.60 308.00 1217.60 Z" fill="url(#t_greenc)"/><ellipse cx="303.66" cy="1216.25" rx="3.80" ry="3.04" fill="url(#h_green)"/>
<path d="M311.00 1367.00 Q308.00 1367.00 308.00 1364.00 L308.00 1202.20 Q308.00 1200.10 308.71 1198.13 L313.28 1185.52 Q314.30 1182.70 317.30 1182.70 L326.80 1182.70 Q329.80 1182.70 329.80 1185.70 L329.80 1346.60 Q329.80 1349.60 328.78 1352.42 L324.52 1364.18 Q323.50 1367.00 320.50 1367.00 Z" fill="url(#g_magc)"/><path d="M308.00 1203.10 Q308.00 1203.10 308.00 1203.10 L308.00 1201.60 Q308.00 1200.10 308.71 1198.13 L313.28 1185.52 Q314.30 1182.70 317.30 1182.70 L326.80 1182.70 Q329.80 1182.70 328.78 1185.52 L324.01 1198.69 Q323.50 1200.10 323.50 1201.60 L323.50 1203.10 Q323.50 1203.10 323.50 1203.10 Z" fill="url(#t_magc)"/><ellipse cx="319.16" cy="1201.75" rx="3.80" ry="3.04" fill="url(#h_mag)"/>
<path d="M350.70 1367.00 Q347.70 1367.00 347.70 1364.00 L347.70 1223.20 Q347.70 1221.10 348.41 1219.13 L352.98 1206.52 Q354.00 1203.70 357.00 1203.70 L366.50 1203.70 Q369.50 1203.70 369.50 1206.70 L369.50 1346.60 Q369.50 1349.60 368.48 1352.42 L364.22 1364.18 Q363.20 1367.00 360.20 1367.00 Z" fill="url(#g_redc)"/><path d="M347.70 1224.10 Q347.70 1224.10 347.70 1224.10 L347.70 1222.60 Q347.70 1221.10 348.41 1219.13 L352.98 1206.52 Q354.00 1203.70 357.00 1203.70 L366.50 1203.70 Q369.50 1203.70 368.48 1206.52 L363.71 1219.69 Q363.20 1221.10 363.20 1222.60 L363.20 1224.10 Q363.20 1224.10 363.20 1224.10 Z" fill="url(#t_redc)"/><ellipse cx="358.86" cy="1222.75" rx="3.80" ry="3.04" fill="url(#h_red)"/>
<path d="M366.20 1367.00 Q363.20 1367.00 363.20 1364.00 L363.20 1218.80 Q363.20 1216.70 363.91 1214.73 L368.48 1202.12 Q369.50 1199.30 372.50 1199.30 L382.00 1199.30 Q385.00 1199.30 385.00 1202.30 L385.00 1346.60 Q385.00 1349.60 383.98 1352.42 L379.72 1364.18 Q378.70 1367.00 375.70 1367.00 Z" fill="url(#g_greenc)"/><path d="M363.20 1219.70 Q363.20 1219.70 363.20 1219.70 L363.20 1218.20 Q363.20 1216.70 363.91 1214.73 L368.48 1202.12 Q369.50 1199.30 372.50 1199.30 L382.00 1199.30 Q385.00 1199.30 383.98 1202.12 L379.21 1215.29 Q378.70 1216.70 378.70 1218.20 L378.70 1219.70 Q378.70 1219.70 378.70 1219.70 Z" fill="url(#t_greenc)"/><ellipse cx="374.36" cy="1218.35" rx="3.80" ry="3.04" fill="url(#h_green)"/>
<path d="M381.70 1367.00 Q378.70 1367.00 378.70 1364.00 L378.70 1161.40 Q378.70 1159.30 379.41 1157.33 L383.98 1144.72 Q385.00 1141.90 388.00 1141.90 L397.50 1141.90 Q400.50 1141.90 400.50 1144.90 L400.50 1346.60 Q400.50 1349.60 399.48 1352.42 L395.22 1364.18 Q394.20 1367.00 391.20 1367.00 Z" fill="url(#g_magc)"/><path d="M378.70 1162.30 Q378.70 1162.30 378.70 1162.30 L378.70 1160.80 Q378.70 1159.30 379.41 1157.33 L383.98 1144.72 Q385.00 1141.90 388.00 1141.90 L397.50 1141.90 Q400.50 1141.90 399.48 1144.72 L394.71 1157.89 Q394.20 1159.30 394.20 1160.80 L394.20 1162.30 Q394.20 1162.30 394.20 1162.30 Z" fill="url(#t_magc)"/><ellipse cx="389.86" cy="1160.95" rx="3.80" ry="3.04" fill="url(#h_mag)"/>
<path d="M421.40 1367.00 Q418.40 1367.00 418.40 1364.00 L418.40 1265.70 Q418.40 1263.60 419.11 1261.63 L423.68 1249.02 Q424.70 1246.20 427.70 1246.20 L437.20 1246.20 Q440.20 1246.20 440.20 1249.20 L440.20 1346.60 Q440.20 1349.60 439.18 1352.42 L434.92 1364.18 Q433.90 1367.00 430.90 1367.00 Z" fill="url(#g_redc)"/><path d="M418.40 1266.60 Q418.40 1266.60 418.40 1266.60 L418.40 1265.10 Q418.40 1263.60 419.11 1261.63 L423.68 1249.02 Q424.70 1246.20 427.70 1246.20 L437.20 1246.20 Q440.20 1246.20 439.18 1249.02 L434.41 1262.19 Q433.90 1263.60 433.90 1265.10 L433.90 1266.60 Q433.90 1266.60 433.90 1266.60 Z" fill="url(#t_redc)"/><ellipse cx="429.56" cy="1265.25" rx="3.80" ry="3.04" fill="url(#h_red)"/>
<path d="M436.90 1367.00 Q433.90 1367.00 433.90 1364.00 L433.90 1238.10 Q433.90 1236.00 434.61 1234.03 L439.18 1221.42 Q440.20 1218.60 443.20 1218.60 L452.70 1218.60 Q455.70 1218.60 455.70 1221.60 L455.70 1346.60 Q455.70 1349.60 454.68 1352.42 L450.42 1364.18 Q449.40 1367.00 446.40 1367.00 Z" fill="url(#g_greenc)"/><path d="M433.90 1239.00 Q433.90 1239.00 433.90 1239.00 L433.90 1237.50 Q433.90 1236.00 434.61 1234.03 L439.18 1221.42 Q440.20 1218.60 443.20 1218.60 L452.70 1218.60 Q455.70 1218.60 454.68 1221.42 L449.91 1234.59 Q449.40 1236.00 449.40 1237.50 L449.40 1239.00 Q449.40 1239.00 449.40 1239.00 Z" fill="url(#t_greenc)"/><ellipse cx="445.06" cy="1237.65" rx="3.80" ry="3.04" fill="url(#h_green)"/>
<path d="M452.40 1367.00 Q449.40 1367.00 449.40 1364.00 L449.40 1194.70 Q449.40 1192.60 450.11 1190.63 L454.68 1178.02 Q455.70 1175.20 458.70 1175.20 L468.20 1175.20 Q471.20 1175.20 471.20 1178.20 L471.20 1346.60 Q471.20 1349.60 470.18 1352.42 L465.92 1364.18 Q464.90 1367.00 461.90 1367.00 Z" fill="url(#g_magc)"/><path d="M449.40 1195.60 Q449.40 1195.60 449.40 1195.60 L449.40 1194.10 Q449.40 1192.60 450.11 1190.63 L454.68 1178.02 Q455.70 1175.20 458.70 1175.20 L468.20 1175.20 Q471.20 1175.20 470.18 1178.02 L465.41 1191.19 Q464.90 1192.60 464.90 1194.10 L464.90 1195.60 Q464.90 1195.60 464.90 1195.60 Z" fill="url(#t_magc)"/><ellipse cx="460.56" cy="1194.25" rx="3.80" ry="3.04" fill="url(#h_mag)"/>
<path d="M492.10 1367.00 Q489.10 1367.00 489.10 1364.00 L489.10 1223.20 Q489.10 1221.10 489.81 1219.13 L494.38 1206.52 Q495.40 1203.70 498.40 1203.70 L507.90 1203.70 Q510.90 1203.70 510.90 1206.70 L510.90 1346.60 Q510.90 1349.60 509.88 1352.42 L505.62 1364.18 Q504.60 1367.00 501.60 1367.00 Z" fill="url(#g_redc)"/><path d="M489.10 1224.10 Q489.10 1224.10 489.10 1224.10 L489.10 1222.60 Q489.10 1221.10 489.81 1219.13 L494.38 1206.52 Q495.40 1203.70 498.40 1203.70 L507.90 1203.70 Q510.90 1203.70 509.88 1206.52 L505.11 1219.69 Q504.60 1221.10 504.60 1222.60 L504.60 1224.10 Q504.60 1224.10 504.60 1224.10 Z" fill="url(#t_redc)"/><ellipse cx="500.26" cy="1222.75" rx="3.80" ry="3.04" fill="url(#h_red)"/>
<path d="M507.60 1367.00 Q504.60 1367.00 504.60 1364.00 L504.60 1207.80 Q504.60 1205.70 505.31 1203.73 L509.88 1191.12 Q510.90 1188.30 513.90 1188.30 L523.40 1188.30 Q526.40 1188.30 526.40 1191.30 L526.40 1346.60 Q526.40 1349.60 525.38 1352.42 L521.12 1364.18 Q520.10 1367.00 517.10 1367.00 Z" fill="url(#g_greenc)"/><path d="M504.60 1208.70 Q504.60 1208.70 504.60 1208.70 L504.60 1207.20 Q504.60 1205.70 505.31 1203.73 L509.88 1191.12 Q510.90 1188.30 513.90 1188.30 L523.40 1188.30 Q526.40 1188.30 525.38 1191.12 L520.61 1204.29 Q520.10 1205.70 520.10 1207.20 L520.10 1208.70 Q520.10 1208.70 520.10 1208.70 Z" fill="url(#t_greenc)"/><ellipse cx="515.76" cy="1207.35" rx="3.80" ry="3.04" fill="url(#h_green)"/>
<path d="M523.10 1367.00 Q520.10 1367.00 520.10 1364.00 L520.10 1099.20 Q520.10 1097.10 520.81 1095.13 L525.38 1082.52 Q526.40 1079.70 529.40 1079.70 L538.90 1079.70 Q541.90 1079.70 541.90 1082.70 L541.90 1346.60 Q541.90 1349.60 540.88 1352.42 L536.62 1364.18 Q535.60 1367.00 532.60 1367.00 Z" fill="url(#g_magc)"/><path d="M520.10 1100.10 Q520.10 1100.10 520.10 1100.10 L520.10 1098.60 Q520.10 1097.10 520.81 1095.13 L525.38 1082.52 Q526.40 1079.70 529.40 1079.70 L538.90 1079.70 Q541.90 1079.70 540.88 1082.52 L536.11 1095.69 Q535.60 1097.10 535.60 1098.60 L535.60 1100.10 Q535.60 1100.10 535.60 1100.10 Z" fill="url(#t_magc)"/><ellipse cx="531.26" cy="1098.75" rx="3.80" ry="3.04" fill="url(#h_mag)"/>
<path d="M562.80 1367.00 Q559.80 1367.00 559.80 1364.00 L559.80 1225.40 Q559.80 1223.30 560.51 1221.33 L565.08 1208.72 Q566.10 1205.90 569.10 1205.90 L578.60 1205.90 Q581.60 1205.90 581.60 1208.90 L581.60 1346.60 Q581.60 1349.60 580.58 1352.42 L576.32 1364.18 Q575.30 1367.00 572.30 1367.00 Z" fill="url(#g_redc)"/><path d="M559.80 1226.30 Q559.80 1226.30 559.80 1226.30 L559.80 1224.80 Q559.80 1223.30 560.51 1221.33 L565.08 1208.72 Q566.10 1205.90 569.10 1205.90 L578.60 1205.90 Q581.60 1205.90 580.58 1208.72 L575.81 1221.89 Q575.30 1223.30 575.30 1224.80 L575.30 1226.30 Q575.30 1226.30 575.30 1226.30 Z" fill="url(#t_redc)"/><ellipse cx="570.96" cy="1224.95" rx="3.80" ry="3.04" fill="url(#h_red)"/>
<path d="M578.30 1367.00 Q575.30 1367.00 575.30 1364.00 L575.30 1191.20 Q575.30 1189.10 576.01 1187.13 L580.58 1174.52 Q581.60 1171.70 584.60 1171.70 L594.10 1171.70 Q597.10 1171.70 597.10 1174.70 L597.10 1346.60 Q597.10 1349.60 596.08 1352.42 L591.82 1364.18 Q590.80 1367.00 587.80 1367.00 Z" fill="url(#g_greenc)"/><path d="M575.30 1192.10 Q575.30 1192.10 575.30 1192.10 L575.30 1190.60 Q575.30 1189.10 576.01 1187.13 L580.58 1174.52 Q581.60 1171.70 584.60 1171.70 L594.10 1171.70 Q597.10 1171.70 596.08 1174.52 L591.31 1187.69 Q590.80 1189.10 590.80 1190.60 L590.80 1192.10 Q590.80 1192.10 590.80 1192.10 Z" fill="url(#t_greenc)"/><ellipse cx="586.46" cy="1190.75" rx="3.80" ry="3.04" fill="url(#h_green)"/>
<path d="M593.80 1367.00 Q590.80 1367.00 590.80 1364.00 L590.80 1132.10 Q590.80 1130.00 591.51 1128.03 L596.08 1115.42 Q597.10 1112.60 600.10 1112.60 L609.60 1112.60 Q612.60 1112.60 612.60 1115.60 L612.60 1346.60 Q612.60 1349.60 611.58 1352.42 L607.32 1364.18 Q606.30 1367.00 603.30 1367.00 Z" fill="url(#g_magc)"/><path d="M590.80 1133.00 Q590.80 1133.00 590.80 1133.00 L590.80 1131.50 Q590.80 1130.00 591.51 1128.03 L596.08 1115.42 Q597.10 1112.60 600.10 1112.60 L609.60 1112.60 Q612.60 1112.60 611.58 1115.42 L606.81 1128.59 Q606.30 1130.00 606.30 1131.50 L606.30 1133.00 Q606.30 1133.00 606.30 1133.00 Z" fill="url(#t_magc)"/><ellipse cx="601.96" cy="1131.65" rx="3.80" ry="3.04" fill="url(#h_mag)"/>
<text x="95.00" y="1390.90" font-size="23.5" text-anchor="end">0.82</text>
<text x="95.00" y="1351.93" font-size="23.5" text-anchor="end">0.84</text>
<text x="95.00" y="1312.96" font-size="23.5" text-anchor="end">0.86</text>
<text x="95.00" y="1273.99" font-size="23.5" text-anchor="end">0.88</text>
<text x="95.00" y="1235.02" font-size="23.5" text-anchor="end">0.9</text>
<text x="95.00" y="1196.05" font-size="23.5" text-anchor="end">0.92</text>
<text x="95.00" y="1157.08" font-size="23.5" text-anchor="end">0.94</text>
<text x="95.00" y="1118.11" font-size="23.5" text-anchor="end">0.96</text>
<text x="150.86" y="1418.00" font-size="23.5" text-anchor="middle">600</text>
<text x="221.39" y="1418.00" font-size="23.5" text-anchor="middle">750</text>
<text x="291.92" y="1418.00" font-size="23.5" text-anchor="middle">850</text>
<text x="362.45" y="1418.00" font-size="23.5" text-anchor="middle">700</text>
<text x="432.98" y="1418.00" font-size="23.5" text-anchor="middle">400</text>
<text x="503.51" y="1418.00" font-size="23.5" text-anchor="middle">300</text>
<text x="574.04" y="1418.00" font-size="23.5" text-anchor="middle">100</text>
<text x="362.00" y="1452.30" font-size="23.5" text-anchor="middle">Solar irradiance (W/m²)</text>
<text x="348.80" y="1483.90" font-size="21" text-anchor="middle" font-weight="bold">(c)</text>
<text x="27.90" y="1241.60" font-size="23.5" text-anchor="middle" transform="rotate(-90 27.90 1241.60)">Efficiency (%)</text>
<rect x="173.80" y="1025.90" width="17.3" height="16.4" fill="#050505"/><rect x="176.30" y="1028.40" width="12.30" height="11.40" fill="#f40000"/><polygon points="176.30,1028.40 188.60,1028.40 182.45,1034.10" fill="#ff3838"/><polygon points="176.30,1039.80 188.60,1039.80 182.45,1034.10" fill="#e60c0c"/>
<text x="193.40" y="1042.00" font-size="23.5" text-anchor="start">η_P&amp;O</text>
<rect x="287.60" y="1025.90" width="17.3" height="16.4" fill="#050505"/><rect x="290.10" y="1028.40" width="12.30" height="11.40" fill="#92d050"/><polygon points="290.10,1028.40 302.40,1028.40 296.25,1034.10" fill="#b4ee78"/><polygon points="290.10,1039.80 302.40,1039.80 296.25,1034.10" fill="#7ab63e"/>
<text x="306.00" y="1042.00" font-size="23.5" text-anchor="start">η_FLC</text>
<rect x="395.80" y="1025.90" width="17.3" height="16.4" fill="#050505"/><rect x="398.30" y="1028.40" width="12.30" height="11.40" fill="#d80ea0"/><polygon points="398.30,1028.40 410.60,1028.40 404.45,1034.10" fill="#f248c0"/><polygon points="398.30,1039.80 410.60,1039.80 404.45,1034.10" fill="#b80886"/>
<text x="414.70" y="1042.00" font-size="23.5" text-anchor="start">η_Hyb(P&amp;O/FLC)</text>
</svg>
</body></html>
